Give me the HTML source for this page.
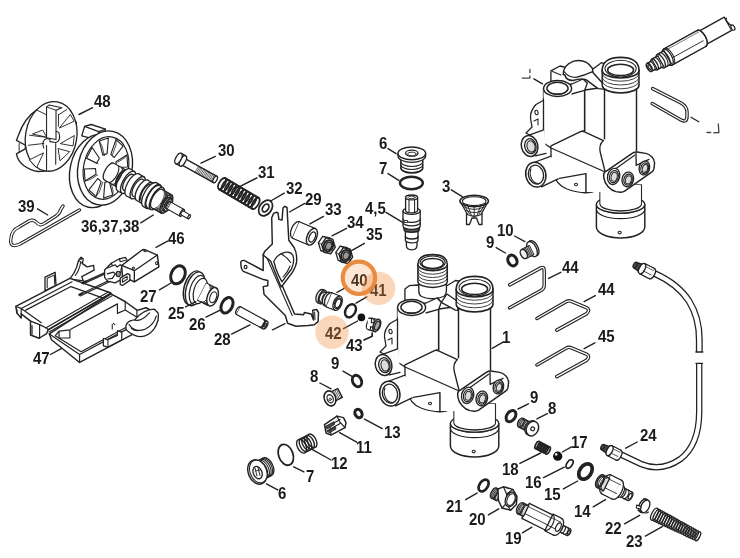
<!DOCTYPE html>
<html><head><meta charset="utf-8"><title>Parts diagram</title>
<style>
html,body{margin:0;padding:0;background:#fff;}
body{width:740px;height:558px;overflow:hidden;font-family:"Liberation Sans",sans-serif;}
svg{display:block;will-change:transform;filter:blur(0.45px);}
svg text{font-family:"Liberation Sans",sans-serif;font-weight:bold;font-size:15px;fill:#1a1a1a;stroke:none;}
</style></head><body>
<svg width="740" height="558" viewBox="0 0 740 558">
<rect x="0" y="0" width="740" height="558" fill="#fff" stroke="none"/>
<g fill="#fff" stroke="#222" stroke-width="1.4" stroke-linejoin="round" stroke-linecap="round">
<path d="M185 165 L185 102 L232 80 L236 140 Z" transform="translate(5 255) scale(0.21622)" vector-effect="non-scaling-stroke" stroke-width="1.32"/>
<path d="M195 150 L195 108 L228 93 L230 135" transform="translate(5 255) scale(0.21622)" vector-effect="non-scaling-stroke" stroke-width="1.06" fill="none"/>
<path d="M300 110 L318 85 Q335 55 340 25 L352 10 L362 18 L358 40 L380 55 L410 48 L412 70 L355 100 L362 120 Z" transform="translate(5 255) scale(0.21622)" vector-effect="non-scaling-stroke" stroke-width="1.32"/>
<path d="M340 25 L350 32 L358 40 M350 32 Q345 70 325 95 M352 12 a4 4 0 1 0 0.1 0" transform="translate(5 255) scale(0.21622)" vector-effect="non-scaling-stroke" stroke-width="1.06" fill="none"/>
<path d="M50 238 L300 108 L490 176 L200 346 L192 364 L158 385 L118 370 L118 306 L75 272 L75 292 L55 268 Z" transform="translate(5 255) scale(0.21622)" vector-effect="non-scaling-stroke" stroke-width="1.45"/>
<path d="M50 238 L75 247 L310 124 M75 247 L75 272 M75 247 L168 313 M96 255 L305 146 L470 205 M118 306 L160 322 L160 385 M160 322 L196 340 M125 326 L125 366 M55 268 L55 252" transform="translate(5 255) scale(0.21622)" vector-effect="non-scaling-stroke" stroke-width="1.19" fill="none"/>
<path d="M205 365 L490 180 L555 215 L612 256 L652 244 L700 268 L706 306 L345 497 L215 392 Z" transform="translate(5 255) scale(0.21622)" vector-effect="non-scaling-stroke" stroke-width="1.45"/>
<path d="M205 365 L345 460 L345 497 M345 460 L562 344 M232 374 L352 447 L556 336 M232 374 L250 352 L300 346 L520 226 L520 270 L556 254 L556 216 M250 352 L250 384 L300 384 L300 346 M556 254 L610 288 L610 258 M610 288 L640 272" transform="translate(5 255) scale(0.21622)" vector-effect="non-scaling-stroke" stroke-width="1.19" fill="none"/>
<path d="M455 386 L455 420 L476 426 L540 392 L540 358 L520 350 L520 372 L476 392 Z" transform="translate(5 255) scale(0.21622)" vector-effect="non-scaling-stroke" stroke-width="1.19"/>
<path d="M476 392 L476 426 M496 320 L496 342 M502 316 L508 322" transform="translate(5 255) scale(0.21622)" vector-effect="non-scaling-stroke" stroke-width="1.06" fill="none"/>
<path d="M560 345 Q552 305 600 300 Q640 250 690 250 L708 268 Q716 300 690 342 Q650 392 600 372 Q575 362 560 345 Z" transform="translate(5 255) scale(0.21622)" vector-effect="non-scaling-stroke" stroke-width="1.32"/>
<path d="M574 322 Q600 362 650 342 Q690 322 700 282 M600 300 Q628 312 668 268 M585 340 Q600 352 615 350" transform="translate(5 255) scale(0.21622)" vector-effect="non-scaling-stroke" stroke-width="1.19" fill="none"/>
<path d="M188 338 L478 171 M196 347 L487 179 M204 356 L495 188" transform="translate(5 255) scale(0.21622)" vector-effect="non-scaling-stroke" stroke-width="1.12" fill="none"/>
<path d="M130 402 L345 298 M136 410 L350 306 M150 322 L335 238 M156 330 L340 246" transform="translate(60 235) scale(0.14865)" vector-effect="non-scaling-stroke" stroke-width="1.19" fill="none"/>
<path d="M130 402 L150 392 M150 322 L172 312" transform="translate(60 235) scale(0.14865)" vector-effect="non-scaling-stroke" stroke-width="2.11" fill="none"/>
<path d="M300 235 L345 190 L400 160 L440 150 L452 170 L440 215 L440 285 L370 322 L320 310 L300 285 Z" transform="translate(60 235) scale(0.14865)" vector-effect="non-scaling-stroke" stroke-width="1.32"/>
<path d="M320 222 L370 200 L385 215 L405 200 L425 215 M318 262 L360 250 L372 262 L352 292 L322 296 M372 262 L410 250 L412 222 M345 190 L352 205 M400 160 L405 180 L440 170" transform="translate(60 235) scale(0.14865)" vector-effect="non-scaling-stroke" stroke-width="1.19" fill="none"/>
<ellipse cx="392" cy="262" rx="14" ry="18" transform="translate(60 235) scale(0.14865) rotate(0 392 262)" vector-effect="non-scaling-stroke" stroke-width="1.06" fill="#999"/>
<path d="M415 205 L548 104 Q560 95 574 100 L655 135 L665 215 L500 315 L420 276 Z" transform="translate(60 235) scale(0.14865)" vector-effect="non-scaling-stroke" stroke-width="1.45"/>
<path d="M415 205 L500 240 L655 135 M500 240 L500 315" transform="translate(60 235) scale(0.14865)" vector-effect="non-scaling-stroke" stroke-width="1.32" fill="none"/>
<ellipse cx="572" cy="107" rx="8" ry="6" transform="translate(60 235) scale(0.14865) rotate(0 572 107)" vector-effect="non-scaling-stroke" stroke-width="1.06"/>
<ellipse cx="650" cy="190" rx="7" ry="10" transform="translate(60 235) scale(0.14865) rotate(0 650 190)" vector-effect="non-scaling-stroke" stroke-width="1.06"/>
<ellipse cx="494" cy="222" rx="7" ry="7" transform="translate(60 235) scale(0.14865) rotate(0 494 222)" vector-effect="non-scaling-stroke" stroke-width="1.06"/>
<path d="M405 332 L405 290 L455 260 L470 268 L470 305 L420 340 Z" transform="translate(60 235) scale(0.14865)" vector-effect="non-scaling-stroke" stroke-width="1.32"/>
<path d="M420 318 L420 298 L452 278 L452 298 Z" transform="translate(60 235) scale(0.14865)" vector-effect="non-scaling-stroke" stroke-width="1.06"/>
<path d="M178 96 Q96 150 56 262 L42 298 L102 330 L100 354 L42 386 Q52 436 92 464 Q135 495 185 502 L232 500 L300 455 L420 330 L436 180 L275 45 Z" transform="translate(10 95) scale(0.15238)" vector-effect="non-scaling-stroke" stroke-width="1.32"/>
<ellipse cx="270" cy="272" rx="168" ry="230" transform="translate(10 95) scale(0.15238) rotate(10 270 272)" vector-effect="non-scaling-stroke" stroke-width="1.32"/>
<path d="M60 318 L60 376" transform="translate(10 95) scale(0.15238)" vector-effect="non-scaling-stroke" stroke-width="0.92" fill="none"/>
<path d="M325 215 L396 128 L420 170 Z M332 318 L422 266 L414 332 Z M150 255 L215 230 L240 275 Z M128 425 L220 380 L176 474 Z M318 352 L392 372 L330 430 Z" transform="translate(10 95) scale(0.15238)" vector-effect="non-scaling-stroke" stroke-width="0.92"/>
<path d="M176 99 L240 130 M128 264 L240 278 M120 330 L222 318 M318 130 L372 96 M318 205 L318 128" transform="translate(10 95) scale(0.15238)" vector-effect="non-scaling-stroke" stroke-width="0.92" fill="none"/>
<path d="M240 78 L256 66 L340 84 L302 100 L302 292 L240 280 Z" transform="translate(10 95) scale(0.15238)" vector-effect="non-scaling-stroke" stroke-width="1.06"/>
<path d="M240 78 L302 100" transform="translate(10 95) scale(0.15238)" vector-effect="non-scaling-stroke" stroke-width="0.92" fill="none"/>
<path d="M240 330 L240 497 L300 455 L300 318 Z" transform="translate(10 95) scale(0.15238)" vector-effect="non-scaling-stroke" stroke-width="0.13" fill="#fff" stroke="#fff"/>
<path d="M240 332 L240 497 M300 318 L300 455" transform="translate(10 95) scale(0.15238)" vector-effect="non-scaling-stroke" stroke-width="1.06" fill="none"/>
<path d="M222 348 Q204 300 240 285 L262 290 L262 306 L300 312 Q336 300 322 250 Q314 238 302 240" transform="translate(10 95) scale(0.15238)" vector-effect="non-scaling-stroke" stroke-width="1.06" fill="none"/>
<path d="M81.8 135.8 L84.6 126.4 L91.2 124.5 L105.4 129.2 L104 136 L96.9 139.6 Z" stroke-width="1.32"/>
<path d="M84.6 126.4 L98.8 131.6 L105.4 129.2 M98.8 131.6 L96.9 139.6" stroke-width="1.19" fill="none"/>
<ellipse cx="96" cy="171" rx="26" ry="37" transform="rotate(12 96 171)"/>
<ellipse cx="105" cy="168" rx="27" ry="37.5" transform="rotate(12 105 168)"/>
<ellipse cx="106" cy="168" rx="22.4" ry="31.6" stroke-width="1.19" transform="rotate(12 106 168)"/>
<path d="M125.5 177.8 L119.8 188.5 L112.6 177.8 L115.4 172.7 Z" stroke-width="1.12"/>
<path d="M125.5 177.8 L123.9 176.8 L117.0 173.3" stroke-width="0.79" fill="none"/>
<path d="M112.7 195.0 L103.6 198.0 L104.9 182.4 L109.2 180.9 Z" stroke-width="1.12"/>
<path d="M112.7 195.0 L113.2 191.1 L110.8 181.5" stroke-width="0.79" fill="none"/>
<path d="M96.0 196.4 L88.9 189.9 L97.8 178.5 L101.2 181.6 Z" stroke-width="1.12"/>
<path d="M96.0 196.4 L99.2 192.2 L102.8 182.2" stroke-width="0.79" fill="none"/>
<path d="M85.1 181.1 L84.2 169.0 L95.5 168.5 L96.0 174.3 Z" stroke-width="1.12"/>
<path d="M85.1 181.1 L90.2 179.5 L97.6 174.9" stroke-width="0.79" fill="none"/>
<path d="M86.5 158.2 L92.2 147.5 L99.4 158.2 L96.6 163.3 Z" stroke-width="1.12"/>
<path d="M86.5 158.2 L91.3 160.4 L98.2 163.9" stroke-width="0.79" fill="none"/>
<path d="M99.3 141.0 L108.4 138.0 L107.1 153.6 L102.8 155.1 Z" stroke-width="1.12"/>
<path d="M99.3 141.0 L102.0 146.1 L104.4 155.7" stroke-width="0.79" fill="none"/>
<path d="M116.0 139.6 L123.1 146.1 L114.2 157.5 L110.8 154.4 Z" stroke-width="1.12"/>
<path d="M116.0 139.6 L116.0 145.0 L112.4 155.0" stroke-width="0.79" fill="none"/>
<path d="M126.9 154.9 L127.8 167.0 L116.5 167.5 L116.0 161.7 Z" stroke-width="1.12"/>
<path d="M126.9 154.9 L125.0 157.7 L117.6 162.3" stroke-width="0.79" fill="none"/>
<path d="M104.3 179.8 L116.5 186.7 L125.9 170.1 L113.7 163.2 Z" stroke-width="1.32"/>
<ellipse cx="109" cy="171.5" rx="4" ry="9.5" stroke-width="1.32" transform="rotate(29.5 109 171.5)"/>
<path d="M104.6 179.2 L116.8 186.1 L125.6 170.6 L113.4 163.8 Z" stroke-width="0.1" stroke="#fff"/>
<ellipse cx="121.2" cy="178.4" rx="4" ry="9.5" stroke-width="1.32" transform="rotate(29.5 121.2 178.4)"/>
<path d="M117.2 185.4 L119.9 186.8 L127.7 172.9 L125.1 171.4 Z" stroke-width="1.32"/>
<ellipse cx="121.2" cy="178.4" rx="3.4" ry="8" stroke-width="1.32" transform="rotate(29.5 121.2 178.4)"/>
<path d="M117.5 184.8 L120.2 186.3 L127.4 173.4 L124.8 172.0 Z" stroke-width="0.1" stroke="#fff"/>
<ellipse cx="123.8" cy="179.9" rx="3.4" ry="8" stroke-width="1.32" transform="rotate(29.5 123.8 179.9)"/>
<path d="M117.6 190.8 L122.0 193.2 L134.3 171.5 L130.0 169.0 Z" stroke-width="1.32"/>
<ellipse cx="123.8" cy="179.9" rx="5.2" ry="12.5" stroke-width="1.32" transform="rotate(29.5 123.8 179.9)"/>
<path d="M117.9 190.2 L122.3 192.7 L134.0 172.0 L129.7 169.5 Z" stroke-width="0.1" stroke="#fff"/>
<ellipse cx="128.1" cy="182.3" rx="5.2" ry="12.5" stroke-width="1.32" transform="rotate(29.5 128.1 182.3)"/>
<path d="M123.7 190.2 L128.1 192.6 L136.9 177.0 L132.6 174.5 Z" stroke-width="1.32"/>
<ellipse cx="128.1" cy="182.3" rx="3.8" ry="9" stroke-width="1.32" transform="rotate(29.5 128.1 182.3)"/>
<path d="M124.0 189.6 L128.4 192.1 L136.6 177.5 L132.3 175.0 Z" stroke-width="0.1" stroke="#fff"/>
<ellipse cx="132.5" cy="184.8" rx="3.8" ry="9" stroke-width="1.32" transform="rotate(29.5 132.5 184.8)"/>
<path d="M126.3 195.7 L131.6 198.6 L143.9 176.9 L138.7 173.9 Z" stroke-width="1.32"/>
<ellipse cx="132.5" cy="184.8" rx="5.2" ry="12.5" stroke-width="1.32" transform="rotate(29.5 132.5 184.8)"/>
<path d="M126.6 195.2 L131.9 198.1 L143.6 177.4 L138.4 174.4 Z" stroke-width="0.1" stroke="#fff"/>
<ellipse cx="137.7" cy="187.7" rx="5.2" ry="12.5" stroke-width="1.32" transform="rotate(29.5 137.7 187.7)"/>
<path d="M133.0 196.0 L137.4 198.5 L146.8 181.9 L142.4 179.5 Z" stroke-width="1.32"/>
<ellipse cx="137.7" cy="187.7" rx="4" ry="9.5" stroke-width="1.32" transform="rotate(29.5 137.7 187.7)"/>
<path d="M133.3 195.5 L137.7 198.0 L146.5 182.5 L142.1 180.0 Z" stroke-width="0.1" stroke="#fff"/>
<ellipse cx="142.1" cy="190.2" rx="4" ry="9.5" stroke-width="1.32" transform="rotate(29.5 142.1 190.2)"/>
<path d="M136.4 200.2 L140.8 202.7 L152.1 182.7 L147.7 180.2 Z" stroke-width="1.32"/>
<ellipse cx="142.1" cy="190.2" rx="4.8" ry="11.5" stroke-width="1.32" transform="rotate(29.5 142.1 190.2)"/>
<path d="M136.7 199.7 L141.1 202.2 L151.8 183.2 L147.4 180.7 Z" stroke-width="0.1" stroke="#fff"/>
<ellipse cx="146.4" cy="192.7" rx="4.8" ry="11.5" stroke-width="1.32" transform="rotate(29.5 146.4 192.7)"/>
<path d="M141.7 200.9 L145.2 202.9 L154.6 186.4 L151.1 184.4 Z" stroke-width="1.32"/>
<ellipse cx="146.4" cy="192.7" rx="4" ry="9.5" stroke-width="1.32" transform="rotate(29.5 146.4 192.7)"/>
<path d="M142.0 200.4 L145.5 202.4 L154.3 186.9 L150.8 184.9 Z" stroke-width="0.1" stroke="#fff"/>
<ellipse cx="149.9" cy="194.6" rx="4" ry="9.5" stroke-width="1.32" transform="rotate(29.5 149.9 194.6)"/>
<path d="M143.3 206.4 L146.7 208.4 L160.0 184.9 L156.6 182.9 Z" stroke-width="1.32"/>
<ellipse cx="149.9" cy="194.6" rx="5.7" ry="13.5" stroke-width="1.32" transform="rotate(29.5 149.9 194.6)"/>
<path d="M143.6 205.9 L147.0 207.8 L159.7 185.4 L156.3 183.4 Z" stroke-width="0.1" stroke="#fff"/>
<ellipse cx="153.4" cy="196.6" rx="5.7" ry="13.5" stroke-width="1.32" transform="rotate(29.5 153.4 196.6)"/>
<path d="M147.2 207.5 L150.7 209.5 L163.0 187.7 L159.5 185.7 Z" stroke-width="1.32"/>
<ellipse cx="153.4" cy="196.6" rx="5.2" ry="12.5" stroke-width="1.32" transform="rotate(29.5 153.4 196.6)"/>
<path d="M147.5 207.0 L151.0 208.9 L162.7 188.2 L159.2 186.3 Z" stroke-width="0.1" stroke="#fff"/>
<ellipse cx="156.9" cy="198.6" rx="5.2" ry="12.5" stroke-width="1.32" transform="rotate(29.5 156.9 198.6)"/>
<path d="M151.7 207.7 L161.3 213.1 L171.6 194.9 L162.0 189.4 Z" stroke-width="1.32"/>
<ellipse cx="156.9" cy="198.6" rx="4.4" ry="10.5" stroke-width="1.32" transform="rotate(29.5 156.9 198.6)"/>
<path d="M152.0 207.2 L161.6 212.6 L171.3 195.4 L161.7 190.0 Z" stroke-width="0.1" stroke="#fff"/>
<ellipse cx="166.4" cy="204" rx="4.4" ry="10.5" stroke-width="1.32" transform="rotate(29.5 166.4 204)"/>
<path d="M163.0 210.1 L164.7 211.1 L171.6 198.9 L169.9 197.9 Z" stroke-width="1.32"/>
<ellipse cx="166.4" cy="204" rx="2.9" ry="7" stroke-width="1.32" transform="rotate(29.5 166.4 204)"/>
<path d="M163.3 209.6 L165.0 210.6 L171.3 199.4 L169.6 198.4 Z" stroke-width="0.1" stroke="#fff"/>
<ellipse cx="168.2" cy="205" rx="2.9" ry="7" stroke-width="1.32" transform="rotate(29.5 168.2 205)"/>
<path d="M166.3 208.3 L180.2 216.2 L184.0 209.6 L170.1 201.7 Z" stroke-width="1.32"/>
<ellipse cx="168.2" cy="205" rx="1.6" ry="3.8" stroke-width="1.32" transform="rotate(29.5 168.2 205)"/>
<path d="M166.6 207.8 L180.5 215.6 L183.7 210.1 L169.8 202.2 Z" stroke-width="0.1" stroke="#fff"/>
<ellipse cx="182.1" cy="212.9" rx="1.6" ry="3.8" stroke-width="1.32" transform="rotate(29.5 182.1 212.9)"/>
<path d="M181.1 214.7 L188.0 218.6 L190.1 215.0 L183.1 211.0 Z" stroke-width="1.32"/>
<ellipse cx="182.1" cy="212.9" rx="0.9" ry="2.1" stroke-width="1.32" transform="rotate(29.5 182.1 212.9)"/>
<path d="M181.4 214.2 L188.3 218.1 L189.8 215.5 L182.8 211.6 Z" stroke-width="0.1" stroke="#fff"/>
<ellipse cx="189.1" cy="216.8" rx="0.9" ry="2.1" stroke-width="1.32" transform="rotate(29.5 189.1 216.8)"/>
<path d="M163.3 190.2 A4.4 10.5 29.5 0 1 153.0 208.5" stroke-width="0.92" fill="none"/>
<path d="M164.6 190.9 A4.4 10.5 29.5 0 1 154.2 209.2" stroke-width="0.92" fill="none"/>
<path d="M165.8 191.6 A4.4 10.5 29.5 0 1 155.4 209.8" stroke-width="0.92" fill="none"/>
<path d="M167.0 192.3 A4.4 10.5 29.5 0 1 156.7 210.5" stroke-width="0.92" fill="none"/>
<path d="M168.2 192.9 A4.4 10.5 29.5 0 1 157.9 211.2" stroke-width="0.92" fill="none"/>
<path d="M169.4 193.6 A4.4 10.5 29.5 0 1 159.1 211.9" stroke-width="0.92" fill="none"/>
<path d="M170.7 194.3 A4.4 10.5 29.5 0 1 160.3 212.6" stroke-width="0.92" fill="none"/>
<path d="M118.0 165.7 A4.0 9.5 29.5 0 1 108.7 182.2" stroke-width="1.06" fill="none"/>
<path d="M121.5 167.7 A4.0 9.5 29.5 0 1 112.2 184.2" stroke-width="1.06" fill="none"/>
<ellipse cx="189.1" cy="216.8" rx="1" ry="2.1" stroke-width="1.06" transform="rotate(29.5 189.1 216.8)"/>
<path d="M79.5 210 L20 244 Q9 249 11 238 Q12 230 19 227 L29 221 Q33 219 36 222 Q40 227 45 223 L56 216 Q60 213 61 209 L63 206" fill="none" stroke="#222" stroke-width="3.4" stroke-linecap="round"/>
<path d="M79.5 210 L20 244 Q9 249 11 238 Q12 230 19 227 L29 221 Q33 219 36 222 Q40 227 45 223 L56 216 Q60 213 61 209 L63 206" fill="none" stroke="#fff" stroke-width="1.4" stroke-linecap="round"/>
<path d="M180.3 164.1 L213.5 182.6 L217.0 176.3 L183.7 157.9 Z" stroke-width="1.32"/>
<ellipse cx="215.2" cy="179.4" rx="1.6" ry="3.6" stroke-width="1.32" transform="rotate(29 215.2 179.4)"/>
<line x1="195.1" y1="172.4" x2="198.6" y2="166.1" stroke-width="0.7"/>
<line x1="196.4" y1="173.1" x2="199.9" y2="166.8" stroke-width="0.7"/>
<line x1="197.7" y1="173.8" x2="201.2" y2="167.5" stroke-width="0.7"/>
<line x1="199.1" y1="174.6" x2="202.5" y2="168.3" stroke-width="0.7"/>
<line x1="200.4" y1="175.3" x2="203.9" y2="169" stroke-width="0.7"/>
<line x1="201.7" y1="176" x2="205.2" y2="169.7" stroke-width="0.7"/>
<line x1="203" y1="176.8" x2="206.5" y2="170.5" stroke-width="0.7"/>
<line x1="204.3" y1="177.5" x2="207.8" y2="171.2" stroke-width="0.7"/>
<line x1="205.6" y1="178.2" x2="209.1" y2="171.9" stroke-width="0.7"/>
<line x1="206.9" y1="178.9" x2="210.4" y2="172.6" stroke-width="0.7"/>
<line x1="208.2" y1="179.7" x2="211.7" y2="173.4" stroke-width="0.7"/>
<line x1="209.6" y1="180.4" x2="213" y2="174.1" stroke-width="0.7"/>
<line x1="210.9" y1="181.1" x2="214.4" y2="174.8" stroke-width="0.7"/>
<line x1="212.2" y1="181.8" x2="215.7" y2="175.5" stroke-width="0.7"/>
<ellipse cx="215.2" cy="179.4" rx="1.7" ry="3.6" stroke-width="1.19" transform="rotate(29 215.2 179.4)"/>
<path d="M175.7 163.6 L180.1 166.0 L185.7 155.9 L181.3 153.4 Z" stroke-width="1.32"/>
<ellipse cx="182.9" cy="160.9" rx="2.6" ry="5.8" stroke-width="1.32" transform="rotate(29 182.9 160.9)"/>
<ellipse cx="178.5" cy="158.5" rx="2.7" ry="5.8" stroke-width="1.32" transform="rotate(29 178.5 158.5)"/>
<ellipse cx="222" cy="183.6" rx="2.9" ry="6.3" stroke-width="1.85" fill="none" transform="rotate(30.5 222 183.6)"/>
<ellipse cx="225.4" cy="185.6" rx="2.9" ry="6.3" stroke-width="1.85" fill="none" transform="rotate(30.5 225.4 185.6)"/>
<ellipse cx="228.7" cy="187.6" rx="2.9" ry="6.3" stroke-width="1.85" fill="none" transform="rotate(30.5 228.7 187.6)"/>
<ellipse cx="232.1" cy="189.5" rx="2.9" ry="6.3" stroke-width="1.85" fill="none" transform="rotate(30.5 232.1 189.5)"/>
<ellipse cx="235.4" cy="191.5" rx="2.9" ry="6.3" stroke-width="1.85" fill="none" transform="rotate(30.5 235.4 191.5)"/>
<ellipse cx="238.8" cy="193.5" rx="2.9" ry="6.3" stroke-width="1.85" fill="none" transform="rotate(30.5 238.8 193.5)"/>
<ellipse cx="242.2" cy="195.5" rx="2.9" ry="6.3" stroke-width="1.85" fill="none" transform="rotate(30.5 242.2 195.5)"/>
<ellipse cx="245.5" cy="197.5" rx="2.9" ry="6.3" stroke-width="1.85" fill="none" transform="rotate(30.5 245.5 197.5)"/>
<ellipse cx="248.9" cy="199.4" rx="2.9" ry="6.3" stroke-width="1.85" fill="none" transform="rotate(30.5 248.9 199.4)"/>
<ellipse cx="252.2" cy="201.4" rx="2.9" ry="6.3" stroke-width="1.85" fill="none" transform="rotate(30.5 252.2 201.4)"/>
<ellipse cx="255.6" cy="203.4" rx="2.9" ry="6.3" stroke-width="1.85" fill="none" transform="rotate(30.5 255.6 203.4)"/>
<path d="M225.4 177.8 L259.0 197.6 M218.6 189.4 L252.2 209.2" stroke-width="1.19" fill="none"/>
<ellipse cx="265.6" cy="208" rx="6" ry="8.6" stroke-width="1.72" transform="rotate(35 265.6 208)"/>
<ellipse cx="265.6" cy="208" rx="2.8" ry="4.3" stroke-width="1.72" transform="rotate(35 265.6 208)"/>
<path d="M263.2 254 L263.2 270.5 L244.1 260.4 Q240.5 260 240.8 263.6 Q241 269.6 243.4 271.3 L262.4 279.2 L267.8 280.5 L267.8 285.8 L263.2 286.6 L264 294.2 L285.3 315.5 L287.6 323.2 L296 326.2 L308.2 325.5 L314.3 324.7 L318.1 321.6 L318.5 312.5 L316.6 309.5 L312.7 310.2 L313.5 320 L311.2 314 L304.4 312.5 L303.6 314.8 L294.5 314 L272 262 L272 254 Z" stroke-width="1.45"/>
<path d="M267 258 L292.2 315.5 M314.6 312 L315 319.6" stroke-width="1.06" fill="none"/>
<ellipse cx="245.6" cy="267" rx="1.4" ry="1.7" stroke-width="1.19"/>
<path d="M273.5 213.4 L276.6 212.2 L278 212.9 L278.9 219.4 L282 220.1 L283 208.1 L284.8 206.3 L287 207.5 L288.8 240.3 L294.1 247.5 Q297.4 253.5 296.5 262.7 Q295 270 288.8 277.1 L283.4 284.2 L281 287 L270.8 261.4 L263.2 255 L264.6 251.6 L272.3 243.9 L271.7 217.9 Z" stroke-width="1.45"/>
<path d="M273.8 261.5 Q276 256 282 253.3 Q290 250.3 292.8 255.3 Q295 261 291.5 269 L286.1 276.2 L282 281.8 Q278.5 276 276 269 Z" stroke-width="1.32"/>
<path d="M281 253.8 Q287 257 290.6 262.5 M283 277 Q288 272 290 266" stroke-width="1.06" fill="none"/>
<ellipse cx="295.9" cy="230" rx="4.6" ry="8.8" stroke-width="1.32" transform="rotate(23 295.9 230)"/>
<path d="M292.5 238.1 L308.5 244.9 L315.4 228.7 L299.3 221.9 Z" stroke-width="1.32"/>
<path d="M292.7 237.5 L308.7 244.3 L315.1 229.3 L299.1 222.5 Z" stroke-width="0.1" stroke="#fff"/>
<ellipse cx="311.9" cy="236.8" rx="4.8" ry="8.8" stroke-width="1.45" transform="rotate(23 311.9 236.8)"/>
<ellipse cx="312.2" cy="237" rx="2.9" ry="5.4" stroke-width="1.32" transform="rotate(23 312.2 237)"/>
<path d="M332.0 245.7 L327.6 252.1 L320.8 250.6 L318.4 242.7 L322.8 236.3 L329.6 237.8 Z" stroke-width="1.32"/>
<line x1="335.2" y1="247.3" x2="332" y2="245.7" stroke-width="0.8"/>
<line x1="330.8" y1="253.7" x2="327.6" y2="252.1" stroke-width="0.8"/>
<line x1="324" y1="252.2" x2="320.8" y2="250.6" stroke-width="0.8"/>
<line x1="321.6" y1="244.3" x2="318.4" y2="242.7" stroke-width="0.8"/>
<line x1="326" y1="237.9" x2="322.8" y2="236.3" stroke-width="0.8"/>
<line x1="332.8" y1="239.4" x2="329.6" y2="237.8" stroke-width="0.8"/>
<path d="M335.2 247.3 L330.8 253.7 L324.0 252.2 L321.6 244.3 L326.0 237.9 L332.8 239.4 Z" stroke-width="1.45"/>
<ellipse cx="328.4" cy="245.8" rx="4.6" ry="5.7" stroke-width="1.98" transform="rotate(20 328.4 245.8)"/>
<ellipse cx="328.7" cy="246" rx="3" ry="3.9" stroke-width="1.19" fill="#999" transform="rotate(20 328.7 246)"/>
<path d="M349.4 255.5 L345.0 261.9 L338.2 260.4 L335.8 252.5 L340.2 246.1 L347.0 247.6 Z" stroke-width="1.32"/>
<line x1="352.6" y1="257.1" x2="349.4" y2="255.5" stroke-width="0.8"/>
<line x1="348.2" y1="263.5" x2="345" y2="261.9" stroke-width="0.8"/>
<line x1="341.4" y1="262" x2="338.2" y2="260.4" stroke-width="0.8"/>
<line x1="339" y1="254.1" x2="335.8" y2="252.5" stroke-width="0.8"/>
<line x1="343.4" y1="247.7" x2="340.2" y2="246.1" stroke-width="0.8"/>
<line x1="350.2" y1="249.2" x2="347" y2="247.6" stroke-width="0.8"/>
<path d="M352.6 257.1 L348.2 263.5 L341.4 262.0 L339.0 254.1 L343.4 247.7 L350.2 249.2 Z" stroke-width="1.45"/>
<ellipse cx="345.8" cy="255.6" rx="4.6" ry="5.7" stroke-width="1.98" transform="rotate(20 345.8 255.6)"/>
<ellipse cx="346.1" cy="255.8" rx="3" ry="3.9" stroke-width="1.19" fill="#999" transform="rotate(20 346.1 255.8)"/>
<ellipse cx="178" cy="274.8" rx="6.8" ry="9.4" stroke-width="3" fill="#fff" transform="rotate(25 178 274.8)"/>
<ellipse cx="227" cy="305.3" rx="5.4" ry="8.2" stroke-width="3" fill="#fff" transform="rotate(27 227 305.3)"/>
<ellipse cx="193.2" cy="287.8" rx="9" ry="17.4" stroke-width="1.45" transform="rotate(16 193.2 287.8)"/>
<ellipse cx="195.2" cy="288.8" rx="9" ry="17.4" stroke-width="1.32" transform="rotate(16 195.2 288.8)"/>
<ellipse cx="197.6" cy="290" rx="7.6" ry="15" stroke-width="1.19" transform="rotate(16 197.6 290)"/>
<ellipse cx="200.4" cy="291" rx="6.6" ry="13" stroke-width="1.19" transform="rotate(16 200.4 291)"/>
<path d="M197.6 300.2 L207.9 305.4 L216.6 288.3 L206.4 283.0 Z" stroke-width="1.19"/>
<path d="M197.9 299.6 L207.9 304.7 L216.1 288.7 L206.1 283.6 Z" stroke-width="0.1" stroke="#fff"/>
<path d="M209.0 284.4 A5 9.6 20 0 1 200.3 301.5" stroke-width="0.92" fill="none"/>
<path d="M210.6 285.2 A5 9.6 20 0 1 201.9 302.3" stroke-width="0.92" fill="none"/>
<path d="M212.2 286.0 A5 9.6 20 0 1 203.5 303.1" stroke-width="0.92" fill="none"/>
<path d="M213.8 286.9 A5 9.6 20 0 1 205.1 304.0" stroke-width="0.92" fill="none"/>
<ellipse cx="212.6" cy="296.8" rx="5.2" ry="9.6" stroke-width="1.45" transform="rotate(20 212.6 296.8)"/>
<ellipse cx="213.2" cy="297.2" rx="3.2" ry="5.6" stroke-width="1.19" transform="rotate(20 213.2 297.2)"/>
<ellipse cx="238.5" cy="310.6" rx="2.2" ry="4.2" stroke-width="1.32" transform="rotate(28.6 238.5 310.6)"/>
<path d="M236.5 314.3 L263.1 328.8 L267.1 321.4 L240.5 306.9 Z" stroke-width="1.32"/>
<path d="M236.8 313.8 L263.4 328.3 L266.8 321.9 L240.2 307.4 Z" stroke-width="0.1" stroke="#fff"/>
<ellipse cx="265.1" cy="325.1" rx="2.2" ry="4.2" stroke-width="1.32" transform="rotate(28.6 265.1 325.1)"/>
<ellipse cx="265.3" cy="325.2" rx="1.1" ry="2.2" stroke-width="1.19" fill="#888" transform="rotate(28.6 265.3 325.2)"/>
<path d="M264.0 319.7 A2.2 4.2 28.6 0 1 260.0 327.1" stroke-width="1.58" fill="none"/>
<ellipse cx="320.3" cy="296.2" rx="3.9" ry="7" stroke-width="1.32" transform="rotate(22 320.3 296.2)"/>
<path d="M317.7 302.7 L320.1 303.7 L325.3 290.7 L322.9 289.7 Z" stroke-width="1.32"/>
<path d="M317.9 302.1 L320.3 303.1 L325.1 291.2 L322.7 290.3 Z" stroke-width="0.1" stroke="#fff"/>
<ellipse cx="322.7" cy="297.2" rx="3.9" ry="7" stroke-width="1.32" transform="rotate(22 322.7 297.2)"/>
<ellipse cx="322.7" cy="297.2" rx="3" ry="5.4" stroke-width="1.32" transform="rotate(22 322.7 297.2)"/>
<path d="M320.7 302.2 L324.8 303.8 L328.8 293.8 L324.7 292.2 Z" stroke-width="1.32"/>
<path d="M320.9 301.6 L325.0 303.3 L328.6 294.4 L324.5 292.7 Z" stroke-width="0.1" stroke="#fff"/>
<ellipse cx="326.8" cy="298.8" rx="3" ry="5.4" stroke-width="1.32" transform="rotate(22 326.8 298.8)"/>
<ellipse cx="324.6" cy="297.4" rx="1.6" ry="2.6" stroke-width="1.19" fill="#777" transform="rotate(22 324.6 297.4)"/>
<ellipse cx="326.8" cy="298.8" rx="3.9" ry="7" stroke-width="1.32" transform="rotate(22 326.8 298.8)"/>
<path d="M324.2 305.3 L326.6 306.3 L331.8 293.3 L329.4 292.3 Z" stroke-width="1.32"/>
<path d="M324.4 304.8 L326.8 305.7 L331.6 293.9 L329.2 292.9 Z" stroke-width="0.1" stroke="#fff"/>
<ellipse cx="329.2" cy="299.8" rx="3.9" ry="7" stroke-width="1.32" transform="rotate(22 329.2 299.8)"/>
<ellipse cx="329.2" cy="299.8" rx="4.1" ry="7.5" stroke-width="1.32" transform="rotate(22 329.2 299.8)"/>
<path d="M326.4 306.8 L334.8 310.2 L340.4 296.3 L332.0 292.8 Z" stroke-width="1.32"/>
<path d="M326.6 306.2 L335.1 309.6 L340.2 296.8 L331.8 293.4 Z" stroke-width="0.1" stroke="#fff"/>
<ellipse cx="337.6" cy="303.2" rx="4.1" ry="7.5" stroke-width="1.32" transform="rotate(22 337.6 303.2)"/>
<ellipse cx="337.8" cy="303.3" rx="3.1" ry="5.6" stroke-width="1.32" transform="rotate(22 337.8 303.3)"/>
<ellipse cx="338" cy="303.4" rx="2.4" ry="4.5" stroke-width="1.06" transform="rotate(22 338 303.4)"/>
<ellipse cx="350.5" cy="310.8" rx="4.9" ry="7" stroke-width="2.4" fill="#fff" transform="rotate(30 350.5 310.8)"/>
<circle cx="361.4" cy="317.4" r="3.8" fill="#111" stroke="none"/>
<ellipse cx="370" cy="323.8" rx="3" ry="6" stroke-width="1.32" transform="rotate(22 370 323.8)"/>
<path d="M367.8 318.4 L374.6 319.6 L379.4 321.4 L379.4 331.4 L374.4 331.6 L367.8 329.4 Z" stroke-width="0.1" stroke="#fff"/>
<path d="M368.8 318.2 L376.2 319.2 M368.6 329.6 L375.6 331.8" stroke-width="1.32" fill="none"/>
<ellipse cx="376.8" cy="325.4" rx="3.4" ry="6.4" stroke-width="1.45" transform="rotate(22 376.8 325.4)"/>
<ellipse cx="377.2" cy="325.6" rx="2.2" ry="4.6" stroke-width="1.19" fill="#aaa" transform="rotate(22 377.2 325.6)"/>
<path d="M371.6 318.6 L371.4 322.6 L374 323 L374.2 319 M370.4 330 L370.6 326.6 L373.2 327.4 L373 330.8" stroke-width="1.19" fill="none"/>
<ellipse cx="357" cy="381" rx="4.4" ry="6" stroke-width="2.8" fill="#fff" transform="rotate(-27 357 381)"/>
<ellipse cx="330" cy="398.4" rx="5.6" ry="7.6" stroke-width="1.45" transform="rotate(-20 330 398.4)"/>
<path d="M334.3 401.5 L342.3 397.4 L337.7 388.5 L329.7 392.5 Z" stroke-width="1.32"/>
<line x1="336.5" y1="400.3" x2="332" y2="391.4" stroke-width="0.7"/>
<line x1="337.9" y1="399.6" x2="333.4" y2="390.7" stroke-width="0.7"/>
<line x1="339.3" y1="398.9" x2="334.8" y2="390" stroke-width="0.7"/>
<line x1="340.8" y1="398.1" x2="336.2" y2="389.2" stroke-width="0.7"/>
<line x1="342.2" y1="397.4" x2="337.7" y2="388.5" stroke-width="0.7"/>
<ellipse cx="330" cy="398.4" rx="5.6" ry="7.6" stroke-width="1.45" transform="rotate(-20 330 398.4)"/>
<ellipse cx="330.2" cy="398.8" rx="3" ry="4.2" stroke-width="1.19" transform="rotate(-20 330.2 398.8)"/>
<ellipse cx="330.2" cy="399.4" rx="1.2" ry="1.2" stroke-width="0.92"/>
<ellipse cx="358.5" cy="413.5" rx="3.4" ry="4.4" stroke-width="3.1" fill="#fff" transform="rotate(-27 358.5 413.5)"/>
<g transform="translate(0 1.6)">
<path d="M324.5 423 L337 414.5 L343.5 416 L346 421 L345 426 L331 433.5 L326 431.5 Z" stroke-width="1.45"/>
<path d="M326 426 L340 418 M327 429.5 L341 421.5 M337 414.5 L339.5 420 L345 426 M330 425.5 L331 433" stroke-width="1.19" fill="none"/>
<path d="M326 424.5 L334 420 L334.5 423 L327 427.5 Z" stroke-width="0.79" fill="#444"/>
<path d="M327.5 429.5 L335.5 425 L336 427.5 L329 431.5 Z" stroke-width="0.79" fill="#444"/>
</g>
<ellipse cx="301.6" cy="446.2" rx="4.2" ry="7.4" stroke-width="1.39" fill="none" transform="rotate(-27 301.6 446.2)"/>
<ellipse cx="304.2" cy="444.9" rx="4.2" ry="7.4" stroke-width="1.39" fill="none" transform="rotate(-27 304.2 444.9)"/>
<ellipse cx="306.8" cy="443.6" rx="4.2" ry="7.4" stroke-width="1.39" fill="none" transform="rotate(-27 306.8 443.6)"/>
<ellipse cx="309.4" cy="442.3" rx="4.2" ry="7.4" stroke-width="1.39" fill="none" transform="rotate(-27 309.4 442.3)"/>
<ellipse cx="311.9" cy="440.9" rx="4.2" ry="7.4" stroke-width="1.39" fill="none" transform="rotate(-27 311.9 440.9)"/>
<ellipse cx="285.8" cy="454.8" rx="7.2" ry="10.8" stroke-width="1.8" fill="#fff" transform="rotate(-20 285.8 454.8)"/>
<path d="M262.4 480.1 L271.7 475.3 L263.0 458.2 L253.6 462.9 Z" stroke-width="1.32"/>
<ellipse cx="267.4" cy="466.7" rx="5.5" ry="9.6" stroke-width="1.32" transform="rotate(-27 267.4 466.7)"/>
<path d="M256.8 461.3 A5.5 9.6 -27 0 1 265.6 478.4" stroke-width="1.06" fill="none"/>
<path d="M258.5 460.4 A5.5 9.6 -27 0 1 267.3 477.6" stroke-width="1.06" fill="none"/>
<path d="M260.2 459.6 A5.5 9.6 -27 0 1 269.0 476.7" stroke-width="1.06" fill="none"/>
<path d="M261.9 458.7 A5.5 9.6 -27 0 1 270.6 475.8" stroke-width="1.06" fill="none"/>
<ellipse cx="257.3" cy="472" rx="9" ry="12.6" stroke-width="1.45" transform="rotate(-22 257.3 472)"/>
<ellipse cx="258.3" cy="471.5" rx="8.2" ry="11.8" stroke-width="1.06" transform="rotate(-22 258.3 471.5)"/>
<ellipse cx="257.6" cy="472.6" rx="4.3" ry="6.4" stroke-width="1.32" transform="rotate(-22 257.6 472.6)"/>
<path d="M255 468 L257 476 M258 467.5 L260 475.5 M255.5 471 L260 470" stroke-width="0.92" fill="none"/>
<path d="M400.8 158 L400.8 168 A11 5 0 0 0 422.8 168 L422.8 158 Z" stroke-width="1.32"/>
<path d="M400.8 161.5 A11 5 0 0 0 422.8 161.5" stroke-width="1.06" fill="none"/>
<path d="M400.8 164.5 A11 5 0 0 0 422.8 164.5" stroke-width="1.06" fill="none"/>
<path d="M400.8 167.5 A11 5 0 0 0 422.8 167.5" stroke-width="1.06" fill="none"/>
<path d="M398 153.4 L398 156 A13.8 6.4 0 0 0 425.6 156 L425.6 153.4 Z" stroke-width="1.32"/>
<ellipse cx="411.8" cy="153.4" rx="13.8" ry="6.4" stroke-width="1.45"/>
<ellipse cx="411.8" cy="153.2" rx="6.2" ry="3" stroke-width="1.32"/>
<ellipse cx="411.8" cy="154" rx="4.2" ry="1.8" stroke-width="0.92"/>
<ellipse cx="411.4" cy="183" rx="11.4" ry="6.2" stroke-width="2.38"/>
<path d="M406.4 240 L406.4 246 Q406.6 249.6 411.7 249.8 Q416.8 249.6 417 246 L417 240 Z" stroke-width="1.32"/>
<path d="M405.4 229 L405.4 240.4 A6.3 2.4 0 0 0 418 240.4 L418 229 Z" stroke-width="1.32"/>
<path d="M405.4 236.6 A6.3 2.4 0 0 0 418 236.6" stroke-width="1.58" fill="none"/>
<path d="M404 226 L404 229.4 A7.7 2.8 0 0 0 419.4 229.4 L419.4 226 Z" stroke-width="1.45" fill="#555"/>
<path d="M403 211 L403 226 A8.6 3.4 0 0 0 420.2 226 L420.2 211 Z" stroke-width="1.32"/>
<path d="M403 219 A8.6 3.4 0 0 0 420.2 219 M403 222.5 A8.6 3.4 0 0 0 420.2 222.5" stroke-width="1.19" fill="none"/>
<path d="M404.5 220.5 h3 v2 h-3 Z" stroke-width="0.92"/>
<ellipse cx="411.6" cy="211" rx="8.6" ry="3.4" stroke-width="1.32"/>
<path d="M405.6 197.4 L405.6 210.5 A6 2.4 0 0 0 417.6 210.5 L417.6 197.4 Z" stroke-width="1.32"/>
<path d="M409 199.6 L409 212.5 M414.6 199.6 L414.6 212.5" stroke-width="1.06" fill="none"/>
<ellipse cx="411.6" cy="197.4" rx="6" ry="2.4" stroke-width="1.32"/>
<ellipse cx="411.6" cy="197.4" rx="3.6" ry="1.3" stroke-width="0.92"/>
<path d="M466.5 213 L466.5 224.5 L469.5 224.5 L472 218 L476.5 218 L479 224.5 L482 224.5 L482 213 Z" stroke-width="1.32"/>
<path d="M460 201 L467.5 214.5 Q474.2 218 481 214.5 L488.4 201 Z" stroke-width="1.32"/>
<ellipse cx="474.2" cy="201" rx="14.2" ry="5.8" stroke-width="1.58"/>
<ellipse cx="474.2" cy="201.2" rx="11.8" ry="4.4" stroke-width="1.06"/>
<path d="M463 203.5 L469.5 214 M467.5 205 L471.5 215.5 M474.2 205.6 L474.2 216.5 M481 205 L477 215.5 M485.5 203.5 L479 214 M464.5 207 Q474.2 212 484 207 M466.5 210.5 Q474.2 215 482 210.5" stroke-width="0.92" fill="none"/>
<ellipse cx="512.4" cy="260.5" rx="4.3" ry="5.6" stroke-width="3.1" fill="#fff" transform="rotate(-27 512.4 260.5)"/>
<ellipse cx="533.6" cy="248.2" rx="4.4" ry="8.2" stroke-width="1.32" transform="rotate(-27 533.6 248.2)"/>
<ellipse cx="532" cy="249.1" rx="4.4" ry="8.2" stroke-width="1.32" transform="rotate(-27 532 249.1)"/>
<path d="M526.1 258.5 L533.7 254.6 L529.2 245.6 L521.5 249.5 Z" stroke-width="1.32"/>
<path d="M525.9 258.1 L533.5 254.2 L529.3 246.0 L521.7 249.9 Z" stroke-width="0.1" fill="#aaa" stroke="#aaa"/>
<line x1="528.2" y1="257.4" x2="523.7" y2="248.5" stroke-width="0.7"/>
<line x1="529.6" y1="256.6" x2="525.1" y2="247.7" stroke-width="0.7"/>
<line x1="531.1" y1="255.9" x2="526.5" y2="247" stroke-width="0.7"/>
<line x1="532.5" y1="255.2" x2="527.9" y2="246.3" stroke-width="0.7"/>
<ellipse cx="523.8" cy="254" rx="3.1" ry="5" stroke-width="1.32" fill="#eee" transform="rotate(-27 523.8 254)"/>
<path d="M450.4 423.5 L450.4 446 A24.2 11 0 0 0 498.8 446 L498.8 423.5 A24.2 8.6 0 0 1 450.4 423.5 Z" stroke-width="1.45"/>
<ellipse cx="474.6" cy="423.5" rx="24.2" ry="8.6" stroke-width="1.32"/>
<path d="M450.4 428.6 A24.2 9 0 0 0 498.8 428.6" stroke-width="1.19" fill="none"/>
<path d="M454 404 L454 423 A20.6 7 0 0 0 495.4 423 L495.4 404 Z" stroke-width="1.32"/>
<path d="M454.6 404 L454.6 422.8 A20.2 6.6 0 0 0 494.8 422.8 L494.8 404 Z" stroke-width="0.1" stroke="#fff"/>
<ellipse cx="473.7" cy="451.6" rx="1.6" ry="1.3" stroke-width="1.06"/>
<path d="M408 392 Q409 403 421 408 Q436 413.5 446 411 Q453 409 456 404 L456 388 Z" stroke-width="1.32"/>
<ellipse cx="430" cy="403.5" rx="1.5" ry="1.3" stroke-width="1.06"/>
<line x1="440" y1="393" x2="440" y2="411.6" stroke-width="0.9"/>
<path d="M398 319 L390 323.5 Q384 330 384.5 337 L386 346 L380 352 L398 362 Z" stroke-width="1.32"/>
<ellipse cx="390.5" cy="331.5" rx="1.6" ry="2.2" stroke-width="1.06" transform="rotate(-15 390.5 331.5)"/>
<path d="M388 340 L392 338 L392 344" stroke-width="1.06" fill="none"/>
<path d="M404.9 296 L404.9 289 L409.3 285.7 L418 285 L447 285.7 L455.4 280.5 L460 281.2 L460 306 L439 309 L404.9 303 Z" stroke-width="1.32"/>
<path d="M418.8 280 L418.8 291 Q418.8 295 421.5 296.5 Q432 301 443.6 296.5 Q446.4 295 446.4 290 L446.4 280 Z" stroke-width="1.32"/>
<path d="M417.9 264 L417.9 281.4 A14.7 6 0 0 0 447.3 281.4 L447.3 264 Z" stroke-width="1.45"/>
<path d="M417.9 268.2 A14.7 6 0 0 0 447.3 268.2" stroke-width="0.86" fill="none"/>
<path d="M417.9 271.5 A14.7 6 0 0 0 447.3 271.5" stroke-width="0.86" fill="none"/>
<path d="M417.9 274.8 A14.7 6 0 0 0 447.3 274.8" stroke-width="0.86" fill="none"/>
<path d="M417.9 278.1 A14.7 6 0 0 0 447.3 278.1" stroke-width="0.86" fill="none"/>
<path d="M417.9 264.4 C417.9 257.5 424 254.6 432.6 254.6 C441.2 254.6 447.3 257.5 447.3 264.4 A14.7 6.2 0 0 1 417.9 264.4 Z" stroke-width="1.58"/>
<ellipse cx="432.6" cy="262.6" rx="12.6" ry="6.6" stroke-width="1.06"/>
<ellipse cx="432.6" cy="263.4" rx="10.8" ry="5" stroke-width="1.45"/>
<path d="M437.6 297.6 l3.7 4.7" stroke-width="1.19" fill="none"/>
<path d="M447 294 L457.8 301.5 L457.8 310.4 L455.4 310.2 L441.3 302.3 Z" stroke-width="1.32"/>
<path d="M397.5 308 L397.5 362 L405 367 L436.4 350.2 L438.6 350 L438.6 309.4 L441.3 302.3 L437 298 L426 303 Z" stroke-width="1.32"/>
<path d="M438.6 309.4 L438.6 350" stroke-width="1.32" fill="none"/>
<path d="M422 314 L438.6 309.4" stroke-width="1.32" fill="none"/>
<path d="M397.6 307.5 L397.6 316 A14 8 0 0 0 425.6 316 L425.6 307.5 Z" stroke-width="0.1" stroke="#fff"/>
<ellipse cx="411.6" cy="307.5" rx="14" ry="8" stroke-width="1.45"/>
<ellipse cx="411.5" cy="307.3" rx="10.6" ry="6" stroke-width="1.45"/>
<path d="M402 309.5 A10 5 0 0 0 421 309.5" stroke-width="1.06" fill="none"/>
<path d="M458.5 300 L458.5 392 L490.5 392 L490.5 300 Z" stroke-width="1.45"/>
<path d="M458.5 360 L458.5 392.6 L490.5 392.6 L490.5 372" stroke-width="3.7" fill="none" stroke="#fff"/>
<path d="M456.2 289 L456.2 304.6 A18.4 7.4 0 0 0 493 304.6 L493 289 Z" stroke-width="1.45"/>
<path d="M456.2 292.8 A18.4 7.4 0 0 0 493 292.8" stroke-width="0.86" fill="none"/>
<path d="M456.2 296.6 A18.4 7.4 0 0 0 493 296.6" stroke-width="0.86" fill="none"/>
<path d="M456.2 300.4 A18.4 7.4 0 0 0 493 300.4" stroke-width="0.86" fill="none"/>
<path d="M456.2 304.2 A18.4 7.4 0 0 0 493 304.2" stroke-width="0.86" fill="none"/>
<path d="M456.2 289.4 C456.2 280.4 464 276.4 474.6 276.4 C485.2 276.4 493 280.4 493 289.4 A18.4 7.6 0 0 1 456.2 289.4 Z" stroke-width="1.65"/>
<ellipse cx="474.6" cy="287.6" rx="15.6" ry="8.4" stroke-width="1.06"/>
<ellipse cx="474.6" cy="288.9" rx="13" ry="5.6" stroke-width="1.52"/>
<path d="M405 367 L405 378 L412 397.7 L440 392.6 L440 411 L462 411 L461.5 392 Z" stroke-width="0.1" stroke="#fff"/>
<path d="M412 397.7 L440 392.6 L440 411" stroke-width="1.32" fill="none"/>
<path d="M405 367 Q403.5 365.6 406 364.4 L434.5 350.6 Q436.5 349.8 438.5 350.8 L457.4 359.6 Q452.5 364 454.3 371.5 L459.2 391 Z" stroke-width="1.32"/>
<path d="M405 367 L405 377" stroke-width="1.32" fill="none"/>
<path d="M382.5 354.4 L398 348.6 L400 372 L389.5 374.6 Z" stroke-width="0.1" stroke="#fff"/>
<path d="M382.5 354.4 L397.6 348.8 M389.5 374.8 L400 372.4" stroke-width="1.32" fill="none"/>
<ellipse cx="383.6" cy="365" rx="8.2" ry="10.6" stroke-width="1.45" transform="rotate(-14 383.6 365)"/>
<ellipse cx="384.4" cy="365.2" rx="5.6" ry="7.6" stroke-width="1.32" transform="rotate(-14 384.4 365.2)"/>
<ellipse cx="385" cy="365.4" rx="4" ry="5.8" stroke-width="1.06" fill="#ddd" transform="rotate(-14 385 365.4)"/>
<path d="M386.5 382 L405 375 L413 397.5 L395.5 405.6 Z" stroke-width="0.1" stroke="#fff"/>
<path d="M386.5 382 L405 375.2 M395.5 405.8 L412 397.9" stroke-width="1.32" fill="none"/>
<ellipse cx="389.8" cy="393.7" rx="10" ry="12.5" stroke-width="1.45" transform="rotate(-14 389.8 393.7)"/>
<ellipse cx="390" cy="393.7" rx="7.5" ry="9.6" stroke-width="1.32" transform="rotate(-14 390 393.7)"/>
<path d="M385 388 A7 9.4 -14 0 0 393 402.5" stroke-width="1.06" fill="none"/>
<path d="M458.8 391.2 L486.6 372.2 Q488.6 370.8 491 371 L499.6 372.4 C504 373.2 508.6 377.4 508.6 382 L508 387.4 Q507.6 389.8 505.6 391.2 L478.6 410.2 Q476.6 411.4 474.4 411.2 L470 410.6 C464.6 409.6 458.6 403.4 457.8 396.6 Q457.2 392.4 458.8 391.2 Z" stroke-width="1.45"/>
<path d="M490 372 L490.2 384.4 L503 378.4" stroke-width="1.32" fill="none"/>
<path d="M461.6 393.4 L488.6 374.2" stroke-width="1.19" fill="none"/>
<ellipse cx="467.6" cy="395.4" rx="6" ry="8.2" stroke-width="1.32" transform="rotate(14 467.6 395.4)"/>
<ellipse cx="467.9" cy="395.6" rx="4.4" ry="6.2" stroke-width="1.19" transform="rotate(14 467.9 395.6)"/>
<ellipse cx="468.2" cy="395.8" rx="3" ry="4.5" stroke-width="0.92" fill="#ddd" transform="rotate(14 468.2 395.8)"/>
<ellipse cx="481.8" cy="398.4" rx="5.7" ry="7.4" stroke-width="1.32" transform="rotate(14 481.8 398.4)"/>
<ellipse cx="482.1" cy="398.6" rx="4.2" ry="5.6" stroke-width="1.19" transform="rotate(14 482.1 398.6)"/>
<ellipse cx="482.4" cy="398.8" rx="2.9" ry="4.1" stroke-width="0.92" fill="#ddd" transform="rotate(14 482.4 398.8)"/>
<ellipse cx="498.4" cy="387" rx="5.2" ry="7" stroke-width="1.32" transform="rotate(14 498.4 387)"/>
<ellipse cx="498.7" cy="387.2" rx="3.8" ry="5.3" stroke-width="1.19" transform="rotate(14 498.7 387.2)"/>
<ellipse cx="499" cy="387.4" rx="2.6" ry="3.9" stroke-width="0.92" fill="#ddd" transform="rotate(14 499 387.4)"/>
<g transform="translate(146 -219)">
<path d="M450.4 423.5 L450.4 446 A24.2 11 0 0 0 498.8 446 L498.8 423.5 A24.2 8.6 0 0 1 450.4 423.5 Z" stroke-width="1.45"/>
<ellipse cx="474.6" cy="423.5" rx="24.2" ry="8.6" stroke-width="1.32"/>
<path d="M450.4 428.6 A24.2 9 0 0 0 498.8 428.6" stroke-width="1.19" fill="none"/>
<path d="M454 404 L454 423 A20.6 7 0 0 0 495.4 423 L495.4 404 Z" stroke-width="1.32"/>
<path d="M454.6 404 L454.6 422.8 A20.2 6.6 0 0 0 494.8 422.8 L494.8 404 Z" stroke-width="0.1" stroke="#fff"/>
<ellipse cx="473.7" cy="451.6" rx="1.6" ry="1.3" stroke-width="1.06"/>
<path d="M408 392 Q409 403 421 408 Q436 413.5 446 411 Q453 409 456 404 L456 388 Z" stroke-width="1.32"/>
<ellipse cx="430" cy="403.5" rx="1.5" ry="1.3" stroke-width="1.06"/>
<line x1="440" y1="393" x2="440" y2="411.6" stroke-width="0.9"/>
<path d="M398 319 L390 323.5 Q384 330 384.5 337 L386 346 L380 352 L398 362 Z" stroke-width="1.32"/>
<ellipse cx="390.5" cy="331.5" rx="1.6" ry="2.2" stroke-width="1.06" transform="rotate(-15 390.5 331.5)"/>
<path d="M388 340 L392 338 L392 344" stroke-width="1.06" fill="none"/>
<path d="M404.9 297 L404.9 289.8 L414 285 L418 286 L447 288 L455.4 281.7 L460.2 283.3 L460 306 L439 309 L404.9 303 Z" stroke-width="1.32"/>
<path d="M406.5 290.5 L415 294" stroke-width="1.06" fill="none"/>
<path d="M397.5 308 L397.5 362 L405 367 L436.4 350.2 L438.6 350 L438.6 309.4 L441.3 302.3 L437 298 L426 303 Z" stroke-width="1.32"/>
<path d="M438.6 309.4 L438.6 350" stroke-width="1.32" fill="none"/>
<path d="M422 314 L438.6 309.4" stroke-width="1.32" fill="none"/>
<path d="M397.6 307.5 L397.6 316 A14 8 0 0 0 425.6 316 L425.6 307.5 Z" stroke-width="0.1" stroke="#fff"/>
<ellipse cx="411.6" cy="307.5" rx="14" ry="8" stroke-width="1.45"/>
<ellipse cx="411.5" cy="307.3" rx="10.6" ry="6" stroke-width="1.45"/>
<path d="M402 309.5 A10 5 0 0 0 421 309.5" stroke-width="1.06" fill="none"/>
<path d="M417.2 293.5 Q417 284 427.8 280.1 Q440 277.6 446.4 287.4 L446.9 291.4 L459.4 305.2 L459.4 308.4 L452.1 307.6 L439.9 298.7 Q435 297 427 299.5 Q420 299.5 418.9 294 Z" stroke-width="1.45"/>
<path d="M418.6 291 Q422 296.4 430 296.4 Q438 294.6 446.6 290.6" stroke-width="1.19" fill="none"/>
<path d="M458.5 300 L458.5 392 L490.5 392 L490.5 300 Z" stroke-width="1.45"/>
<path d="M458.5 360 L458.5 392.6 L490.5 392.6 L490.5 372" stroke-width="3.7" fill="none" stroke="#fff"/>
<path d="M456.2 289 L456.2 304.6 A18.4 7.4 0 0 0 493 304.6 L493 289 Z" stroke-width="1.45"/>
<path d="M456.2 292.8 A18.4 7.4 0 0 0 493 292.8" stroke-width="0.86" fill="none"/>
<path d="M456.2 296.6 A18.4 7.4 0 0 0 493 296.6" stroke-width="0.86" fill="none"/>
<path d="M456.2 300.4 A18.4 7.4 0 0 0 493 300.4" stroke-width="0.86" fill="none"/>
<path d="M456.2 304.2 A18.4 7.4 0 0 0 493 304.2" stroke-width="0.86" fill="none"/>
<path d="M456.2 289.4 C456.2 280.4 464 276.4 474.6 276.4 C485.2 276.4 493 280.4 493 289.4 A18.4 7.6 0 0 1 456.2 289.4 Z" stroke-width="1.65"/>
<ellipse cx="474.6" cy="287.6" rx="15.6" ry="8.4" stroke-width="1.06"/>
<ellipse cx="474.6" cy="288.9" rx="13" ry="5.6" stroke-width="1.52"/>
<path d="M405 367 L405 378 L412 397.7 L440 392.6 L440 411 L462 411 L461.5 392 Z" stroke-width="0.1" stroke="#fff"/>
<path d="M412 397.7 L440 392.6 L440 411" stroke-width="1.32" fill="none"/>
<path d="M405 367 Q403.5 365.6 406 364.4 L434.5 350.6 Q436.5 349.8 438.5 350.8 L457.4 359.6 Q452.5 364 454.3 371.5 L459.2 391 Z" stroke-width="1.32"/>
<path d="M405 367 L405 377" stroke-width="1.32" fill="none"/>
<path d="M382.5 354.4 L398 348.6 L400 372 L389.5 374.6 Z" stroke-width="0.1" stroke="#fff"/>
<path d="M382.5 354.4 L397.6 348.8 M389.5 374.8 L400 372.4" stroke-width="1.32" fill="none"/>
<ellipse cx="383.6" cy="365" rx="8.2" ry="10.6" stroke-width="1.45" transform="rotate(-14 383.6 365)"/>
<ellipse cx="384.4" cy="365.2" rx="5.6" ry="7.6" stroke-width="1.32" transform="rotate(-14 384.4 365.2)"/>
<ellipse cx="385" cy="365.4" rx="4" ry="5.8" stroke-width="1.06" fill="#ddd" transform="rotate(-14 385 365.4)"/>
<path d="M386.5 382 L405 375 L413 397.5 L395.5 405.6 Z" stroke-width="0.1" stroke="#fff"/>
<path d="M386.5 382 L405 375.2 M395.5 405.8 L412 397.9" stroke-width="1.32" fill="none"/>
<ellipse cx="389.8" cy="393.7" rx="10" ry="12.5" stroke-width="1.45" transform="rotate(-14 389.8 393.7)"/>
<ellipse cx="390" cy="393.7" rx="7.5" ry="9.6" stroke-width="1.32" transform="rotate(-14 390 393.7)"/>
<path d="M385 388 A7 9.4 -14 0 0 393 402.5" stroke-width="1.06" fill="none"/>
<path d="M458.8 391.2 L486.6 372.2 Q488.6 370.8 491 371 L499.6 372.4 C504 373.2 508.6 377.4 508.6 382 L508 387.4 Q507.6 389.8 505.6 391.2 L478.6 410.2 Q476.6 411.4 474.4 411.2 L470 410.6 C464.6 409.6 458.6 403.4 457.8 396.6 Q457.2 392.4 458.8 391.2 Z" stroke-width="1.45"/>
<path d="M490 372 L490.2 384.4 L503 378.4" stroke-width="1.32" fill="none"/>
<path d="M461.6 393.4 L488.6 374.2" stroke-width="1.19" fill="none"/>
<ellipse cx="467.6" cy="395.4" rx="6" ry="8.2" stroke-width="1.32" transform="rotate(14 467.6 395.4)"/>
<ellipse cx="467.9" cy="395.6" rx="4.4" ry="6.2" stroke-width="1.19" transform="rotate(14 467.9 395.6)"/>
<ellipse cx="468.2" cy="395.8" rx="3" ry="4.5" stroke-width="0.92" fill="#ddd" transform="rotate(14 468.2 395.8)"/>
<ellipse cx="481.8" cy="398.4" rx="5.7" ry="7.4" stroke-width="1.32" transform="rotate(14 481.8 398.4)"/>
<ellipse cx="482.1" cy="398.6" rx="4.2" ry="5.6" stroke-width="1.19" transform="rotate(14 482.1 398.6)"/>
<ellipse cx="482.4" cy="398.8" rx="2.9" ry="4.1" stroke-width="0.92" fill="#ddd" transform="rotate(14 482.4 398.8)"/>
<ellipse cx="498.4" cy="387" rx="5.2" ry="7" stroke-width="1.32" transform="rotate(14 498.4 387)"/>
<ellipse cx="498.7" cy="387.2" rx="3.8" ry="5.3" stroke-width="1.19" transform="rotate(14 498.7 387.2)"/>
<ellipse cx="499" cy="387.4" rx="2.6" ry="3.9" stroke-width="0.92" fill="#ddd" transform="rotate(14 499 387.4)"/>
</g>
<path d="M703.7 45.9 L731.7 30.4 L724.3 17.1 L696.3 32.6 Z" stroke-width="1.32"/>
<path d="M731.7 30.4 Q734.7 26.4 729.0 23.8 Q725.3 20.1 726.3 18.1" stroke-width="1.32"/>
<ellipse cx="732.9" cy="27.6" rx="1.7" ry="2.8" stroke-width="1.19" transform="rotate(-29 732.9 27.6)"/>
<path d="M672.0 65.1 L706.1 46.2 L697.4 30.4 L663.3 49.3 Z" stroke-width="1.32"/>
<ellipse cx="701.8" cy="38.3" rx="4" ry="9" stroke-width="1.19" transform="rotate(-29 701.8 38.3)"/>
<path d="M672.0 65.1 L705.7 46.4 L697.0 30.7 L663.3 49.3 Z" stroke-width="0.1"/>
<line x1="672" y1="65.1" x2="706.1" y2="46.2" stroke-width="1.1"/>
<line x1="663.3" y1="49.3" x2="697.4" y2="30.4" stroke-width="1.1"/>
<path d="M697.4 30.4 A4.0 9.0 -29.0 0 1 706.1 46.2" stroke-width="1.32" fill="none"/>
<line x1="671.6" y1="58.2" x2="703.1" y2="40.8" stroke-width="0.9"/>
<line x1="666.9" y1="49.6" x2="698.4" y2="32.2" stroke-width="0.6"/>
<ellipse cx="667.7" cy="57.2" rx="4" ry="9" stroke-width="1.32" transform="rotate(-29 667.7 57.2)"/>
<path d="M665.1 48.4 A4.0 9.0 -29.0 0 1 673.8 64.1" stroke-width="1.06" fill="none"/>
<path d="M664.4 67.7 L671.4 63.9 L664.0 50.6 L657.0 54.5 Z" stroke-width="1.32"/>
<ellipse cx="660.7" cy="61.1" rx="3.4" ry="7.6" stroke-width="1.32" transform="rotate(-29 660.7 61.1)"/>
<path d="M659.6 53.0 A3.4 7.6 -29.0 0 1 667.0 66.3" stroke-width="1.06" fill="none"/>
<path d="M661.8 51.8 A3.4 7.6 -29.0 0 1 669.2 65.1" stroke-width="1.06" fill="none"/>
<path d="M657.5 69.7 L663.6 66.3 L657.8 55.8 L651.6 59.2 Z" stroke-width="1.32"/>
<ellipse cx="654.5" cy="64.5" rx="2.7" ry="6" stroke-width="1.32" transform="rotate(-29 654.5 64.5)"/>
<path d="M654.3 57.8 A2.7 6.0 -29.0 0 1 660.1 68.3" stroke-width="1.06" fill="none"/>
<path d="M651.5 71.4 L656.8 68.5 L652.3 60.5 L647.1 63.4 Z" stroke-width="1.32"/>
<ellipse cx="649.3" cy="67.4" rx="2.1" ry="4.6" stroke-width="1.58" transform="rotate(-29 649.3 67.4)"/>
<ellipse cx="649.6" cy="67.2" rx="1.2" ry="2.6" stroke-width="1.32" transform="rotate(-29 649.6 67.2)"/>
<path d="M649.7 61.9 A2.1 4.6 -29.0 0 1 654.2 70.0" stroke-width="1.06" fill="none"/>
<path d="M652.7 88.6 L681 103 Q687 106.5 687 112 L687 117 Q686.5 123 681 120 L652.2 103.5" fill="none" stroke="#222" stroke-width="3.5" stroke-linecap="round"/>
<path d="M652.7 88.6 L681 103 Q687 106.5 687 112 L687 117 Q686.5 123 681 120 L652.2 103.5" fill="none" stroke="#fff" stroke-width="1.25" stroke-linecap="round"/>
<line x1="691" y1="117.2" x2="698.8" y2="121.7" stroke-width="1.3"/>
<path d="M718.3 124 L718.9 132.5 L713.7 132.8 M707 132.5 l3.7 0" stroke-width="1.32" fill="none" stroke="#444"/>
<path d="M522.2 78.1 L529.9 78.1 L529.9 76 M529.9 69.5 L529.9 72.5" stroke-width="1.32" fill="none" stroke="#444"/>
<line x1="533.9" y1="78.9" x2="542.4" y2="83.8" stroke-width="1.4"/>
<path d="M509.7 284.9 L540.8 267.9 Q544.2 266.2 544.2 270.4 L544.2 285.6 Q544.2 288.6 541.4 290.2 L509.7 307.8" fill="none" stroke="#222" stroke-width="3.5" stroke-linecap="round"/>
<path d="M509.7 284.9 L540.8 267.9 Q544.2 266.2 544.2 270.4 L544.2 285.6 Q544.2 288.6 541.4 290.2 L509.7 307.8" fill="none" stroke="#fff" stroke-width="1.25" stroke-linecap="round"/>
<path d="M536.9 318.5 L566 301.7 Q568.6 300.2 571.4 301.3 L586.4 307.6 Q590.6 309.8 586.8 313.6 L556.8 330.1" fill="none" stroke="#222" stroke-width="3.5" stroke-linecap="round"/>
<path d="M536.9 318.5 L566 301.7 Q568.6 300.2 571.4 301.3 L586.4 307.6 Q590.6 309.8 586.8 313.6 L556.8 330.1" fill="none" stroke="#fff" stroke-width="1.25" stroke-linecap="round"/>
<path d="M536.9 365.0 L566 348.2 Q568.6 346.7 571.4 347.8 L586.4 354.1 Q590.6 356.3 586.8 360.1 L556.8 376.6" fill="none" stroke="#222" stroke-width="3.5" stroke-linecap="round"/>
<path d="M536.9 365.0 L566 348.2 Q568.6 346.7 571.4 347.8 L586.4 354.1 Q590.6 356.3 586.8 360.1 L556.8 376.6" fill="none" stroke="#fff" stroke-width="1.25" stroke-linecap="round"/>
<path d="M654.9 273.6 Q678 284 689 301 Q699.5 318 699.3 340 L699.3 352" fill="none" stroke="#222" stroke-width="6.9" stroke-linecap="butt"/>
<path d="M654.9 273.6 Q678 284 689 301 Q699.5 318 699.3 340 L699.3 352" fill="none" stroke="#fff" stroke-width="4.3" stroke-linecap="butt"/>
<path d="M695.9 352 L702.8 352" stroke-width="1.32" fill="none"/>
<path d="M699.2 363.4 L699.2 412 Q699 445 680.5 459 Q661 472.5 641 464 L621 454.5" fill="none" stroke="#222" stroke-width="6.4" stroke-linecap="butt"/>
<path d="M699.2 363.4 L699.2 412 Q699 445 680.5 459 Q661 472.5 641 464 L621 454.5" fill="none" stroke="#fff" stroke-width="3.9" stroke-linecap="butt"/>
<path d="M696 363.4 L702.4 363.4" stroke-width="1.32" fill="none"/>
<path d="M633.6 267.7 L640.2 272.4 L644.0 264.9 L636.4 262.3 Z" stroke-width="1.32" fill="#444"/>
<ellipse cx="635" cy="265" rx="1.5" ry="3" stroke-width="1.32" fill="#555" transform="rotate(27 635 265)"/>
<path d="M639.6 273.6 L649.4 278.6 L654.5 268.6 L644.7 263.6 Z" stroke-width="1.32"/>
<ellipse cx="651.9" cy="273.6" rx="2.8" ry="5.6" stroke-width="1.32" transform="rotate(27 651.9 273.6)"/>
<path d="M639.6 273.6 L648.9 278.4 L654.0 268.4 L644.7 263.6 Z" stroke-width="0.1"/>
<line x1="639.6" y1="273.6" x2="649.4" y2="278.6" stroke-width="1.0"/>
<line x1="644.7" y1="263.6" x2="654.5" y2="268.6" stroke-width="1.0"/>
<line x1="641.4" y1="270" x2="651.2" y2="275" stroke-width="0.8"/>
<line x1="643.7" y1="265.6" x2="653.5" y2="270.6" stroke-width="0.7"/>
<ellipse cx="642.1" cy="268.6" rx="2.8" ry="5.6" stroke-width="1.32" transform="rotate(27 642.1 268.6)"/>
<path d="M601.2 449.5 L607.8 454.2 L611.4 447.1 L603.8 444.5 Z" stroke-width="1.32" fill="#444"/>
<ellipse cx="602.5" cy="447" rx="1.4" ry="2.8" stroke-width="1.32" fill="#555" transform="rotate(27 602.5 447)"/>
<path d="M607.2 455.4 L616.1 460.0 L621.0 450.4 L612.1 445.8 Z" stroke-width="1.32"/>
<ellipse cx="618.5" cy="455.2" rx="2.7" ry="5.4" stroke-width="1.32" transform="rotate(27 618.5 455.2)"/>
<path d="M607.2 455.4 L615.6 459.8 L620.5 450.1 L612.1 445.8 Z" stroke-width="0.1"/>
<line x1="607.2" y1="455.4" x2="616.1" y2="460" stroke-width="1.0"/>
<line x1="612.1" y1="445.8" x2="621" y2="450.4" stroke-width="1.0"/>
<line x1="608.9" y1="452" x2="617.9" y2="456.5" stroke-width="0.8"/>
<line x1="611.1" y1="447.8" x2="620" y2="452.3" stroke-width="0.7"/>
<ellipse cx="609.6" cy="450.6" rx="2.7" ry="5.4" stroke-width="1.32" transform="rotate(27 609.6 450.6)"/>
<ellipse cx="511" cy="416.1" rx="4.2" ry="6.2" stroke-width="3" fill="#fff" transform="rotate(34 511 416.1)"/>
<path d="M518.6 427.0 L526.6 431.1 L531.0 422.5 L523.0 418.4 Z" stroke-width="1.32" fill="#ccc"/>
<ellipse cx="520.8" cy="422.7" rx="2.9" ry="4.8" stroke-width="1.32" fill="#bbb" transform="rotate(27 520.8 422.7)"/>
<path d="M524.3 419.1 A2.9 4.8 27.0 0 0 520.0 427.7" stroke-width="0.92" fill="none"/>
<path d="M525.7 419.8 A2.9 4.8 27.0 0 0 521.4 428.4" stroke-width="0.92" fill="none"/>
<path d="M527.2 420.6 A2.9 4.8 27.0 0 0 522.8 429.1" stroke-width="0.92" fill="none"/>
<path d="M528.6 421.3 A2.9 4.8 27.0 0 0 524.2 429.8" stroke-width="0.92" fill="none"/>
<path d="M530.0 422.0 A2.9 4.8 27.0 0 0 525.7 430.6" stroke-width="0.92" fill="none"/>
<ellipse cx="531" cy="427.9" rx="5.7" ry="7.6" stroke-width="1.32" transform="rotate(27 531 427.9)"/>
<ellipse cx="532.4" cy="428.6" rx="5.9" ry="7.6" stroke-width="1.45" transform="rotate(27 532.4 428.6)"/>
<ellipse cx="532.7" cy="428.8" rx="1.9" ry="1.9" stroke-width="1.19" transform="rotate(27 532.7 428.8)"/>
<ellipse cx="537.5" cy="445.2" rx="2" ry="4.1" stroke-width="1.72" fill="none" transform="rotate(27 537.5 445.2)"/>
<ellipse cx="539.5" cy="446.2" rx="2" ry="4.1" stroke-width="1.72" fill="none" transform="rotate(27 539.5 446.2)"/>
<ellipse cx="541.6" cy="447.3" rx="2" ry="4.1" stroke-width="1.72" fill="none" transform="rotate(27 541.6 447.3)"/>
<ellipse cx="543.6" cy="448.3" rx="2" ry="4.1" stroke-width="1.72" fill="none" transform="rotate(27 543.6 448.3)"/>
<ellipse cx="545.7" cy="449.4" rx="2" ry="4.1" stroke-width="1.72" fill="none" transform="rotate(27 545.7 449.4)"/>
<ellipse cx="547.7" cy="450.4" rx="2" ry="4.1" stroke-width="1.72" fill="none" transform="rotate(27 547.7 450.4)"/>
<circle cx="557.7" cy="456.2" r="4.6" fill="#111" stroke="none"/>
<circle cx="556.2" cy="454.4" r="1.3" fill="#ddd" stroke="none"/>
<ellipse cx="569.6" cy="464" rx="2.7" ry="4.8" stroke-width="1.7" fill="#fff" transform="rotate(34 569.6 464)"/>
<ellipse cx="585.5" cy="471.5" rx="5.8" ry="8.4" stroke-width="3.7" fill="#fff" transform="rotate(34 585.5 471.5)"/>
<ellipse cx="483.6" cy="485.5" rx="4.2" ry="6.6" stroke-width="2.7" fill="#fff" transform="rotate(34 483.6 485.5)"/>
<path d="M491.5 498.1 L496.8 500.8 L501.9 490.8 L496.5 488.1 Z" stroke-width="1.32" fill="#ddd"/>
<ellipse cx="494" cy="493.1" rx="2.8" ry="5.6" stroke-width="1.32" fill="#ccc" transform="rotate(27 494 493.1)"/>
<path d="M497.6 488.7 A2.8 5.6 27.0 0 0 492.5 498.6" stroke-width="0.92" fill="none"/>
<path d="M498.9 489.3 A2.8 5.6 27.0 0 0 493.9 499.3" stroke-width="0.92" fill="none"/>
<path d="M500.3 490.0 A2.8 5.6 27.0 0 0 495.2 500.0" stroke-width="0.92" fill="none"/>
<path d="M501.6 490.7 A2.8 5.6 27.0 0 0 496.5 500.7" stroke-width="0.92" fill="none"/>
<path d="M498 489 L503.4 486.8 L512.8 489.4 L517 496.4 L516.4 504.4 L510.6 510.2 L502 508 L498.4 500.4 Z" stroke-width="1.45"/>
<path d="M503.4 486.8 L506.6 494 L506.4 503.4 L502 508 M506.6 494 L512.8 489.4 M506.4 503.4 L510.6 510.2" stroke-width="1.19" fill="none"/>
<ellipse cx="510.6" cy="499.4" rx="5" ry="7.6" stroke-width="1.32" transform="rotate(22 510.6 499.4)"/>
<ellipse cx="511" cy="499.6" rx="3.8" ry="6.2" stroke-width="1.06" transform="rotate(22 511 499.6)"/>
<path d="M556.2 530.1 L567.0 535.4 L570.2 529.0 L559.4 523.7 Z" stroke-width="1.32"/>
<ellipse cx="568.6" cy="532.2" rx="1.8" ry="3.6" stroke-width="1.32" transform="rotate(26.4 568.6 532.2)"/>
<path d="M556.2 530.1 L566.5 535.2 L569.7 528.8 L559.4 523.7 Z" stroke-width="0.1"/>
<line x1="556.2" y1="530.1" x2="567" y2="535.4" stroke-width="1.0"/>
<line x1="559.4" y1="523.7" x2="570.2" y2="529" stroke-width="1.0"/>
<path d="M562.2 524.7 A1.9 3.9 26.4 0 1 558.8 531.7" stroke-width="1.19" fill="none"/>
<path d="M564.9 526.0 A1.9 3.9 26.4 0 1 561.5 533.0" stroke-width="1.19" fill="none"/>
<path d="M567.6 527.4 A1.9 3.9 26.4 0 1 564.1 534.4" stroke-width="1.19" fill="none"/>
<ellipse cx="568.9" cy="532.4" rx="1.1" ry="2.2" stroke-width="1.32" transform="rotate(26.4 568.9 532.4)"/>
<path d="M544.8 530.7 L553.7 535.1 L561.9 518.6 L553.0 514.2 Z" stroke-width="1.32"/>
<ellipse cx="557.8" cy="526.9" rx="4.6" ry="9.2" stroke-width="1.32" transform="rotate(26.4 557.8 526.9)"/>
<path d="M544.8 530.7 L553.3 534.9 L561.5 518.4 L553.0 514.2 Z" stroke-width="0.1"/>
<line x1="544.8" y1="530.7" x2="553.7" y2="535.1" stroke-width="1.0"/>
<line x1="553" y1="514.2" x2="561.9" y2="518.6" stroke-width="1.0"/>
<line x1="547.5" y1="525.1" x2="557.8" y2="530.2" stroke-width="0.9"/>
<line x1="551.3" y1="517.5" x2="560.7" y2="522.2" stroke-width="0.8"/>
<ellipse cx="558.4" cy="527.1" rx="2.3" ry="4.6" stroke-width="1.19" transform="rotate(26.4 558.4 527.1)"/>
<path d="M521.8 518.4 L545.1 530.0 L552.6 514.9 L529.3 503.3 Z" stroke-width="1.32"/>
<line x1="525.2" y1="513.8" x2="547.6" y2="524.9" stroke-width="0.9"/>
<line x1="528.7" y1="506.8" x2="551.1" y2="517.9" stroke-width="0.8"/>
<path d="M552.7 514.7 A4.3 8.6 26.4 0 1 545.0 530.1" stroke-width="1.19" fill="none"/>
<path d="M517.5 513.6 L523.4 516.5 L528.7 505.7 L522.9 502.8 Z" stroke-width="1.32" fill="#ddd"/>
<ellipse cx="520.2" cy="508.2" rx="3" ry="6" stroke-width="1.32" fill="#ccc" transform="rotate(26.4 520.2 508.2)"/>
<path d="M523.9 503.4 A3.0 6.0 26.4 0 0 518.6 514.1" stroke-width="0.92" fill="none"/>
<path d="M525.3 504.0 A3.0 6.0 26.4 0 0 520.0 514.8" stroke-width="0.92" fill="none"/>
<path d="M526.6 504.7 A3.0 6.0 26.4 0 0 521.3 515.4" stroke-width="0.92" fill="none"/>
<path d="M528.0 505.4 A3.0 6.0 26.4 0 0 522.6 516.1" stroke-width="0.92" fill="none"/>
<path d="M618.4 495.6 L627.8 500.3 L631.9 492.1 L622.5 487.4 Z" stroke-width="1.32"/>
<ellipse cx="629.9" cy="496.2" rx="2.3" ry="4.6" stroke-width="1.32" transform="rotate(26.6 629.9 496.2)"/>
<path d="M618.4 495.6 L627.3 500.1 L631.5 491.9 L622.5 487.4 Z" stroke-width="0.1"/>
<line x1="618.4" y1="495.6" x2="627.8" y2="500.3" stroke-width="1.0"/>
<line x1="622.5" y1="487.4" x2="631.9" y2="492.1" stroke-width="1.0"/>
<path d="M625.3 488.5 A2.5 4.9 26.6 0 1 621.0 497.2" stroke-width="1.19" fill="none"/>
<path d="M628.0 489.8 A2.5 4.9 26.6 0 1 623.6 498.6" stroke-width="1.19" fill="none"/>
<ellipse cx="630.1" cy="496.3" rx="1.5" ry="3" stroke-width="1.19" transform="rotate(26.6 630.1 496.3)"/>
<path d="M613.1 495.0 L617.6 497.2 L623.3 485.8 L618.9 483.5 Z" stroke-width="1.32"/>
<ellipse cx="620.5" cy="491.5" rx="3.2" ry="6.4" stroke-width="1.32" transform="rotate(26.6 620.5 491.5)"/>
<path d="M613.1 495.0 L617.2 497.0 L623.0 485.6 L618.9 483.5 Z" stroke-width="0.1"/>
<line x1="613.1" y1="495" x2="617.6" y2="497.2" stroke-width="0.8"/>
<line x1="618.9" y1="483.5" x2="623.3" y2="485.8" stroke-width="0.8"/>
<path d="M601.5 493.6 L612.2 499.0 L621.5 480.4 L610.8 475.0 Z" stroke-width="1.32"/>
<ellipse cx="616.9" cy="489.7" rx="5.2" ry="10.4" stroke-width="1.32" transform="rotate(26.6 616.9 489.7)"/>
<path d="M601.5 493.6 L611.8 498.8 L621.1 480.2 L610.8 475.0 Z" stroke-width="0.1"/>
<line x1="601.5" y1="493.6" x2="612.2" y2="499" stroke-width="1.0"/>
<line x1="610.8" y1="475" x2="621.5" y2="480.4" stroke-width="1.0"/>
<line x1="604.5" y1="487.6" x2="616.6" y2="493.6" stroke-width="0.9"/>
<line x1="608.8" y1="479" x2="620.5" y2="484.8" stroke-width="0.8"/>
<path d="M610.8 475.0 A5.2 10.4 26.6 0 0 601.5 493.6" stroke-width="1.32" fill="none"/>
<path d="M596.8 487.5 L603.5 490.8 L609.7 478.3 L603.0 474.9 Z" stroke-width="1.32" fill="#ddd"/>
<ellipse cx="599.9" cy="481.2" rx="3.5" ry="7" stroke-width="1.32" fill="#ccc" transform="rotate(26.6 599.9 481.2)"/>
<ellipse cx="600.2" cy="481.3" rx="2.5" ry="5" stroke-width="1.06" transform="rotate(26.6 600.2 481.3)"/>
<path d="M604.3 475.6 A3.5 7.0 26.6 0 0 598.0 488.1" stroke-width="0.92" fill="none"/>
<path d="M605.7 476.3 A3.5 7.0 26.6 0 0 599.4 488.8" stroke-width="0.92" fill="none"/>
<path d="M607.1 477.0 A3.5 7.0 26.6 0 0 600.9 489.5" stroke-width="0.92" fill="none"/>
<path d="M608.6 477.7 A3.5 7.0 26.6 0 0 602.3 490.2" stroke-width="0.92" fill="none"/>
<ellipse cx="643.6" cy="505.8" rx="4.4" ry="7.2" stroke-width="1.45" transform="rotate(27 643.6 505.8)"/>
<ellipse cx="645.2" cy="506.4" rx="4" ry="6.8" stroke-width="1.32" transform="rotate(27 645.2 506.4)"/>
<path d="M636.6 505 L641 506.6 L640.6 509 L636.4 508 Z M638 510.4 L642 511.4" stroke-width="1.19"/>
<path d="M643.6 498.8 L646.4 499.4 M646 513.2 L648.6 512" stroke-width="1.19" fill="none"/>
<ellipse cx="654.5" cy="514.2" rx="2.8" ry="6.6" stroke-width="1.32" fill="none" transform="rotate(27 654.5 514.2)"/>
<ellipse cx="656.8" cy="515.4" rx="2.7" ry="6.5" stroke-width="1.32" fill="none" transform="rotate(27 656.8 515.4)"/>
<ellipse cx="659" cy="516.5" rx="2.7" ry="6.4" stroke-width="1.32" fill="none" transform="rotate(27 659 516.5)"/>
<ellipse cx="661.3" cy="517.7" rx="2.7" ry="6.3" stroke-width="1.32" fill="none" transform="rotate(27 661.3 517.7)"/>
<ellipse cx="663.6" cy="518.8" rx="2.6" ry="6.2" stroke-width="1.32" fill="none" transform="rotate(27 663.6 518.8)"/>
<ellipse cx="665.9" cy="520" rx="2.6" ry="6.2" stroke-width="1.32" fill="none" transform="rotate(27 665.9 520)"/>
<ellipse cx="668.1" cy="521.1" rx="2.5" ry="6.1" stroke-width="1.32" fill="none" transform="rotate(27 668.1 521.1)"/>
<ellipse cx="670.4" cy="522.3" rx="2.5" ry="6" stroke-width="1.32" fill="none" transform="rotate(27 670.4 522.3)"/>
<ellipse cx="672.7" cy="523.5" rx="2.5" ry="5.9" stroke-width="1.32" fill="none" transform="rotate(27 672.7 523.5)"/>
<ellipse cx="674.9" cy="524.6" rx="2.4" ry="5.8" stroke-width="1.32" fill="none" transform="rotate(27 674.9 524.6)"/>
<ellipse cx="677.2" cy="525.8" rx="2.4" ry="5.7" stroke-width="1.32" fill="none" transform="rotate(27 677.2 525.8)"/>
<ellipse cx="679.5" cy="526.9" rx="2.4" ry="5.6" stroke-width="1.32" fill="none" transform="rotate(27 679.5 526.9)"/>
<ellipse cx="681.8" cy="528.1" rx="2.3" ry="5.5" stroke-width="1.32" fill="none" transform="rotate(27 681.8 528.1)"/>
<ellipse cx="684" cy="529.2" rx="2.3" ry="5.4" stroke-width="1.32" fill="none" transform="rotate(27 684 529.2)"/>
<ellipse cx="686.3" cy="530.4" rx="2.2" ry="5.3" stroke-width="1.32" fill="none" transform="rotate(27 686.3 530.4)"/>
<ellipse cx="688.6" cy="531.6" rx="2.2" ry="5.3" stroke-width="1.32" fill="none" transform="rotate(27 688.6 531.6)"/>
<ellipse cx="690.9" cy="532.7" rx="2.2" ry="5.2" stroke-width="1.32" fill="none" transform="rotate(27 690.9 532.7)"/>
<ellipse cx="693.1" cy="533.9" rx="2.1" ry="5.1" stroke-width="1.32" fill="none" transform="rotate(27 693.1 533.9)"/>
<ellipse cx="695.4" cy="535" rx="2.1" ry="5" stroke-width="1.32" fill="none" transform="rotate(27 695.4 535)"/>
<ellipse cx="697.7" cy="536.2" rx="2.1" ry="4.9" stroke-width="1.32" fill="none" transform="rotate(27 697.7 536.2)"/>
<text transform="translate(94 107) scale(1 1.16)">48</text>
<text transform="translate(218 156) scale(1 1.16)">30</text>
<text transform="translate(258 178) scale(1 1.16)">31</text>
<text transform="translate(286 194) scale(1 1.16)">32</text>
<text transform="translate(305 205) scale(1 1.16)">29</text>
<text transform="translate(325 215) scale(1 1.16)">33</text>
<text transform="translate(347 228) scale(1 1.16)">34</text>
<text transform="translate(366 240) scale(1 1.16)">35</text>
<text transform="translate(18 212) scale(1 1.16)">39</text>
<text transform="translate(81 232) scale(1 1.16)">36,37,38</text>
<text transform="translate(168 244) scale(1 1.16)">46</text>
<text transform="translate(379 149) scale(1 1.16)">6</text>
<text transform="translate(379 174) scale(1 1.16)">7</text>
<text transform="translate(442 192) scale(1 1.16)">3</text>
<text transform="translate(365 214) scale(1 1.16)">4,5</text>
<text transform="translate(497 236) scale(1 1.16)">10</text>
<text transform="translate(486 248) scale(1 1.16)">9</text>
<text transform="translate(562 273) scale(1 1.16)">44</text>
<text transform="translate(140 302) scale(1 1.16)">27</text>
<text transform="translate(168 319) scale(1 1.16)">25</text>
<text transform="translate(189 330) scale(1 1.16)">26</text>
<text transform="translate(214 345) scale(1 1.16)">28</text>
<text transform="translate(33 364) scale(1 1.16)">47</text>
<text transform="translate(325 339) scale(1 1.16)">42</text>
<text transform="translate(346 351) scale(1 1.16)">43</text>
<text transform="translate(331 369) scale(1 1.16)">9</text>
<text transform="translate(310 382) scale(1 1.16)">8</text>
<text transform="translate(356 453) scale(1 1.16)">11</text>
<text transform="translate(331 469) scale(1 1.16)">12</text>
<text transform="translate(306 482) scale(1 1.16)">7</text>
<text transform="translate(278 499) scale(1 1.16)">6</text>
<text transform="translate(351 286) scale(1 1.16)">40</text>
<text transform="translate(370 296) scale(1 1.16)">41</text>
<text transform="translate(502 343) scale(1 1.16)">1</text>
<text transform="translate(598 295) scale(1 1.16)">44</text>
<text transform="translate(598 342) scale(1 1.16)">45</text>
<text transform="translate(530 403) scale(1 1.16)">9</text>
<text transform="translate(548 414) scale(1 1.16)">8</text>
<text transform="translate(384 438) scale(1 1.16)">13</text>
<text transform="translate(571 448) scale(1 1.16)">17</text>
<text transform="translate(640 441) scale(1 1.16)">24</text>
<text transform="translate(502 475) scale(1 1.16)">18</text>
<text transform="translate(525 488) scale(1 1.16)">16</text>
<text transform="translate(544 500) scale(1 1.16)">15</text>
<text transform="translate(446 512) scale(1 1.16)">21</text>
<text transform="translate(469 525) scale(1 1.16)">20</text>
<text transform="translate(505 544) scale(1 1.16)">19</text>
<text transform="translate(574 517) scale(1 1.16)">14</text>
<text transform="translate(605 534) scale(1 1.16)">22</text>
<text transform="translate(626 547) scale(1 1.16)">23</text>
<line x1="79" y1="114.5" x2="92.6" y2="107.7" stroke-width="1.4"/>
<line x1="201" y1="163.2" x2="215.3" y2="156.4" stroke-width="1.4"/>
<line x1="37.5" y1="208.8" x2="47.7" y2="215" stroke-width="1.4"/>
<line x1="140.7" y1="222.8" x2="153.3" y2="215" stroke-width="1.4"/>
<line x1="156" y1="247.3" x2="167.6" y2="241.2" stroke-width="1.4"/>
<line x1="236.6" y1="188.1" x2="257" y2="177.9" stroke-width="1.4"/>
<line x1="270.7" y1="201" x2="284.3" y2="193.2" stroke-width="1.4"/>
<line x1="289.4" y1="212" x2="304.8" y2="203.4" stroke-width="1.4"/>
<line x1="309.9" y1="223.9" x2="323.5" y2="216.4" stroke-width="1.4"/>
<line x1="332" y1="235.8" x2="346.6" y2="228.3" stroke-width="1.4"/>
<line x1="350.7" y1="251.1" x2="364.4" y2="243.3" stroke-width="1.4"/>
<line x1="388" y1="148.6" x2="396.1" y2="153.7" stroke-width="1.4"/>
<line x1="388" y1="173.6" x2="398.8" y2="180.3" stroke-width="1.4"/>
<line x1="386" y1="212.4" x2="402.2" y2="222.2" stroke-width="1.4"/>
<line x1="346.8" y1="287" x2="337" y2="292.4" stroke-width="1.4"/>
<line x1="451.3" y1="189.8" x2="462.2" y2="196.6" stroke-width="1.4"/>
<line x1="514.6" y1="236" x2="524.9" y2="241.6" stroke-width="1.4"/>
<line x1="496.2" y1="247.6" x2="505.4" y2="253" stroke-width="1.4"/>
<line x1="548.6" y1="278.4" x2="560.8" y2="272.3" stroke-width="1.4"/>
<line x1="584.1" y1="301.7" x2="595.3" y2="295.6" stroke-width="1.4"/>
<line x1="159.4" y1="289.8" x2="171" y2="283" stroke-width="1.4"/>
<line x1="185.6" y1="306.9" x2="195.8" y2="301.7" stroke-width="1.4"/>
<line x1="206" y1="317.1" x2="219.7" y2="310.3" stroke-width="1.4"/>
<line x1="231.6" y1="334.1" x2="250" y2="324.9" stroke-width="1.4"/>
<line x1="50.4" y1="354.5" x2="61.3" y2="348.7" stroke-width="1.4"/>
<line x1="343" y1="371.1" x2="351.6" y2="376.2" stroke-width="1.4"/>
<line x1="319.9" y1="383" x2="331.1" y2="388.8" stroke-width="1.4"/>
<line x1="343.5" y1="328.6" x2="357.6" y2="321" stroke-width="1.4"/>
<line x1="366.8" y1="296.8" x2="356" y2="303.2" stroke-width="1.4"/>
<line x1="364.5" y1="419.1" x2="382.2" y2="428.6" stroke-width="1.4"/>
<line x1="339.6" y1="432.7" x2="356.7" y2="442.2" stroke-width="1.4"/>
<line x1="312.4" y1="449.7" x2="331.1" y2="460" stroke-width="1.4"/>
<line x1="293.7" y1="466.8" x2="303.9" y2="471.9" stroke-width="1.4"/>
<line x1="266.4" y1="483.8" x2="277.7" y2="489.9" stroke-width="1.4"/>
<line x1="492.2" y1="348.3" x2="503" y2="342.2" stroke-width="1.4"/>
<line x1="584.1" y1="348.7" x2="594.9" y2="342.8" stroke-width="1.4"/>
<line x1="518" y1="409" x2="528.4" y2="403.8" stroke-width="1.4"/>
<line x1="536.9" y1="418.9" x2="547.3" y2="413.6" stroke-width="1.4"/>
<line x1="562.4" y1="452" x2="571.5" y2="446.9" stroke-width="1.4"/>
<line x1="519.9" y1="463.4" x2="540.7" y2="453" stroke-width="1.4"/>
<line x1="543.5" y1="477.6" x2="564.3" y2="467.2" stroke-width="1.4"/>
<line x1="563.4" y1="488.9" x2="577.6" y2="481" stroke-width="1.4"/>
<line x1="625.8" y1="448.2" x2="637.2" y2="442" stroke-width="1.4"/>
<line x1="465.7" y1="499.7" x2="477" y2="493.1" stroke-width="1.4"/>
<line x1="488.4" y1="514.9" x2="498.8" y2="508.8" stroke-width="1.4"/>
<line x1="522.4" y1="532.8" x2="531.9" y2="527.2" stroke-width="1.4"/>
<line x1="593.2" y1="506.8" x2="605.5" y2="499.6" stroke-width="1.4"/>
<line x1="624.5" y1="523.8" x2="639.6" y2="515.3" stroke-width="1.4"/>
<line x1="645.3" y1="536.1" x2="662.3" y2="526.6" stroke-width="1.4"/>
<path d="M364 340 L372.2 336.2 L372.2 333" stroke-width="1.72" fill="none"/>
<path d="M272.4 329.8 L274.6 328.8 L285 323.6" stroke-width="1.32" fill="none"/>
<circle cx="378.7" cy="288.4" r="16.7" fill="#f08c3c" fill-opacity="0.35" stroke="none"/>
<circle cx="332" cy="332.3" r="16.7" fill="#f08c3c" fill-opacity="0.35" stroke="none"/>
<circle cx="358.9" cy="277.8" r="16.2" fill="#f08c3c" fill-opacity="0.22" stroke="#e8873a" stroke-opacity="0.95" stroke-width="4.2"/>
</g>
</svg>
</body></html>
